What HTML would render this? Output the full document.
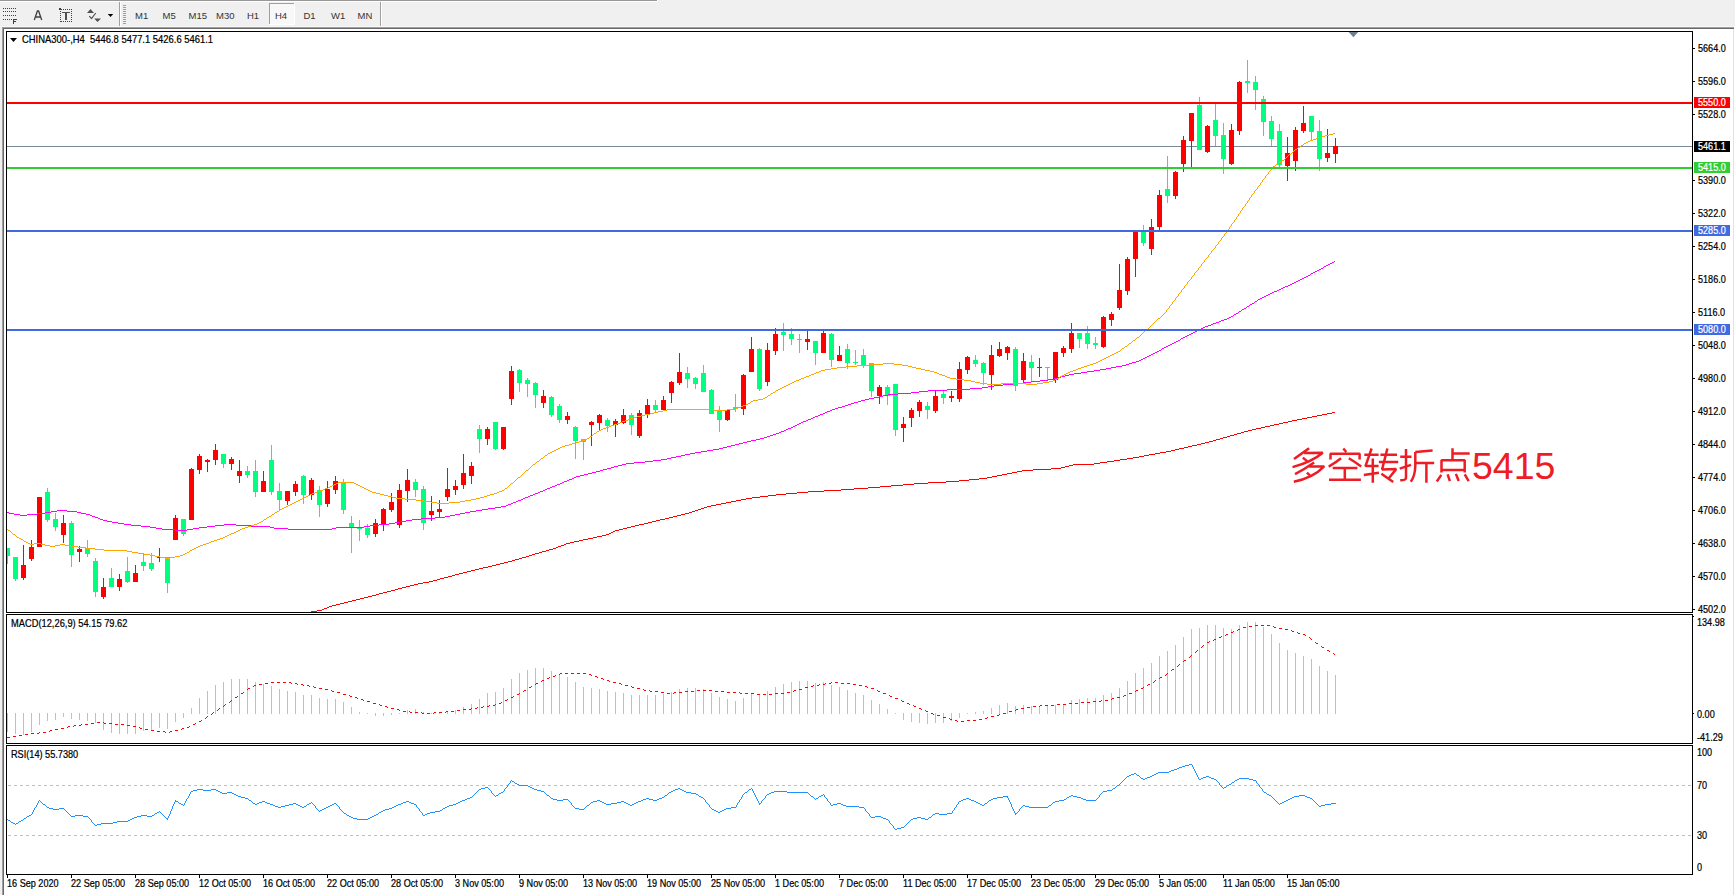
<!DOCTYPE html><html><head><meta charset="utf-8"><style>html,body{margin:0;padding:0;overflow:hidden;background:#f0f0f0}svg{display:block}text{font-family:"Liberation Sans",sans-serif}</style></head><body><svg width="1735" height="895" viewBox="0 0 1735 895" font-family="Liberation Sans, sans-serif"><rect x="0" y="0" width="1735" height="895" fill="#f0f0f0"/><rect x="0" y="0" width="657" height="1" fill="#979797"/><rect x="0" y="1" width="658" height="1" fill="#ffffff"/><rect x="657" y="0" width="1" height="1" fill="#ffffff"/><rect x="119" y="2" width="1" height="25" fill="#a0a0a0"/><rect x="120" y="2" width="1" height="25" fill="#ffffff"/><rect x="380" y="2" width="1" height="25" fill="#a0a0a0"/><rect x="381" y="2" width="1" height="25" fill="#ffffff"/><rect x="123" y="5" width="3" height="1" fill="#a0a0a0"/><rect x="123" y="7" width="3" height="1" fill="#a0a0a0"/><rect x="123" y="9" width="3" height="1" fill="#a0a0a0"/><rect x="123" y="11" width="3" height="1" fill="#a0a0a0"/><rect x="123" y="13" width="3" height="1" fill="#a0a0a0"/><rect x="123" y="15" width="3" height="1" fill="#a0a0a0"/><rect x="123" y="17" width="3" height="1" fill="#a0a0a0"/><rect x="123" y="19" width="3" height="1" fill="#a0a0a0"/><rect x="123" y="21" width="3" height="1" fill="#a0a0a0"/><rect x="123" y="23" width="3" height="1" fill="#a0a0a0"/><rect x="2" y="26" width="1733" height="1" fill="#f8f8f8"/><rect x="2" y="27" width="1732" height="1" fill="#a0a0a0"/><rect x="3" y="28" width="1731" height="1" fill="#696969"/><rect x="2" y="27" width="1" height="868" fill="#a0a0a0"/><rect x="3" y="28" width="1" height="867" fill="#696969"/><rect x="4" y="29" width="1730" height="866" fill="#ffffff"/><rect x="1733" y="29" width="1" height="866" fill="#e3e3e3"/><rect x="1734" y="27" width="1" height="868" fill="#ffffff"/><rect x="269" y="3" width="26" height="22" fill="#f8f8f8"/><rect x="269" y="3" width="26" height="1" fill="#a0a0a0"/><rect x="269" y="3" width="1" height="22" fill="#a0a0a0"/><rect x="294" y="3" width="1" height="22" fill="#ffffff"/><rect x="269" y="24" width="26" height="1" fill="#ffffff"/><rect x="3" y="8" width="1" height="1" fill="#404040"/><rect x="5" y="8" width="1" height="1" fill="#404040"/><rect x="7" y="8" width="1" height="1" fill="#404040"/><rect x="9" y="8" width="1" height="1" fill="#404040"/><rect x="11" y="8" width="1" height="1" fill="#404040"/><rect x="13" y="8" width="1" height="1" fill="#404040"/><rect x="15" y="8" width="1" height="1" fill="#404040"/><rect x="3" y="11" width="1" height="1" fill="#404040"/><rect x="5" y="11" width="1" height="1" fill="#404040"/><rect x="7" y="11" width="1" height="1" fill="#404040"/><rect x="9" y="11" width="1" height="1" fill="#404040"/><rect x="11" y="11" width="1" height="1" fill="#404040"/><rect x="13" y="11" width="1" height="1" fill="#404040"/><rect x="15" y="11" width="1" height="1" fill="#404040"/><rect x="3" y="15" width="1" height="1" fill="#404040"/><rect x="5" y="15" width="1" height="1" fill="#404040"/><rect x="7" y="15" width="1" height="1" fill="#404040"/><rect x="9" y="15" width="1" height="1" fill="#404040"/><rect x="11" y="15" width="1" height="1" fill="#404040"/><rect x="13" y="15" width="1" height="1" fill="#404040"/><rect x="15" y="15" width="1" height="1" fill="#404040"/><rect x="3" y="19" width="1" height="1" fill="#404040"/><rect x="5" y="19" width="1" height="1" fill="#404040"/><rect x="7" y="19" width="1" height="1" fill="#404040"/><rect x="9" y="19" width="1" height="1" fill="#404040"/><rect x="11" y="19" width="1" height="1" fill="#404040"/><rect x="13" y="19" width="1" height="5" fill="#404040"/><rect x="13" y="19" width="4" height="1" fill="#404040"/><rect x="13" y="21" width="3" height="1" fill="#404040"/><path d="M34.3,20 L37.4,11 L38.6,11 L41.7,20 M35.6,17 L40.4,17" fill="none" stroke="#404040" stroke-width="1.3"/><rect x="61" y="9" width="1" height="1" fill="#404040"/><rect x="61" y="21" width="1" height="1" fill="#404040"/><rect x="60" y="11" width="1" height="1" fill="#404040"/><rect x="71" y="9" width="1" height="1" fill="#404040"/><rect x="63" y="9" width="1" height="1" fill="#404040"/><rect x="63" y="21" width="1" height="1" fill="#404040"/><rect x="60" y="13" width="1" height="1" fill="#404040"/><rect x="71" y="11" width="1" height="1" fill="#404040"/><rect x="65" y="9" width="1" height="1" fill="#404040"/><rect x="65" y="21" width="1" height="1" fill="#404040"/><rect x="60" y="15" width="1" height="1" fill="#404040"/><rect x="71" y="13" width="1" height="1" fill="#404040"/><rect x="67" y="9" width="1" height="1" fill="#404040"/><rect x="67" y="21" width="1" height="1" fill="#404040"/><rect x="60" y="17" width="1" height="1" fill="#404040"/><rect x="71" y="15" width="1" height="1" fill="#404040"/><rect x="69" y="9" width="1" height="1" fill="#404040"/><rect x="69" y="21" width="1" height="1" fill="#404040"/><rect x="60" y="19" width="1" height="1" fill="#404040"/><rect x="71" y="17" width="1" height="1" fill="#404040"/><rect x="71" y="9" width="1" height="1" fill="#404040"/><rect x="71" y="21" width="1" height="1" fill="#404040"/><rect x="60" y="21" width="1" height="1" fill="#404040"/><rect x="71" y="19" width="1" height="1" fill="#404040"/><rect x="59" y="8" width="2" height="2" fill="#404040"/><rect x="62" y="12" width="8" height="1" fill="#505050"/><rect x="65" y="12" width="2" height="8" fill="#505050"/><path d="M87,13 L90.5,9 L94,13 Z M94.2,18.5 L101,18.5 L97.5,22 Z" fill="#505050"/><path d="M89.3,16.2 L91.5,18.5 L95.8,13" fill="none" stroke="#505050" stroke-width="1.2"/><path d="M107.8,14 L113.2,14 L110.5,17 Z" fill="#000"/><rect x="6" y="31" width="1687" height="1" fill="#000"/><rect x="6" y="612" width="1687" height="1" fill="#000"/><rect x="6" y="31" width="1" height="582" fill="#000"/><rect x="1692" y="31" width="1" height="582" fill="#000"/><rect x="6" y="614" width="1687" height="1" fill="#000"/><rect x="6" y="743" width="1687" height="1" fill="#000"/><rect x="6" y="614" width="1" height="130" fill="#000"/><rect x="1692" y="614" width="1" height="130" fill="#000"/><rect x="6" y="745" width="1687" height="1" fill="#000"/><rect x="6" y="874" width="1687" height="1" fill="#000"/><rect x="6" y="745" width="1" height="130" fill="#000"/><rect x="1692" y="745" width="1" height="130" fill="#000"/><clipPath id="cm"><rect x="7" y="32" width="1685" height="580"/></clipPath><clipPath id="cmacd"><rect x="7" y="615" width="1685" height="128"/></clipPath><clipPath id="crsi"><rect x="7" y="746" width="1685" height="128"/></clipPath><g clip-path="url(#cm)" shape-rendering="crispEdges"><rect x="7" y="146" width="1686" height="1" fill="#778899"/><rect x="7" y="548" width="1" height="16" fill="#00ff7f"/><rect x="5" y="548" width="5" height="8" fill="#00ff7f"/><rect x="15" y="557" width="1" height="24" fill="#00ff7f"/><rect x="13" y="557" width="5" height="22" fill="#00ff7f"/><rect x="23" y="545" width="1" height="35" fill="#ff0000"/><rect x="21" y="565" width="5" height="13" fill="#ff0000"/><rect x="31" y="540" width="1" height="21" fill="#ff0000"/><rect x="29" y="547" width="5" height="12" fill="#ff0000"/><rect x="39" y="497" width="1" height="50" fill="#ff0000"/><rect x="37" y="497" width="5" height="50" fill="#ff0000"/><rect x="47" y="488" width="1" height="34" fill="#00ff7f"/><rect x="45" y="492" width="5" height="28" fill="#00ff7f"/><rect x="55" y="513" width="1" height="18" fill="#00ff7f"/><rect x="53" y="519" width="5" height="8" fill="#00ff7f"/><rect x="63" y="515" width="1" height="28" fill="#ff0000"/><rect x="61" y="523" width="5" height="12" fill="#ff0000"/><rect x="71" y="521" width="1" height="46" fill="#00ff7f"/><rect x="69" y="523" width="5" height="32" fill="#00ff7f"/><rect x="79" y="546" width="1" height="16" fill="#ff0000"/><rect x="77" y="549" width="5" height="3" fill="#ff0000"/><rect x="87" y="540" width="1" height="17" fill="#00ff7f"/><rect x="85" y="548" width="5" height="6" fill="#00ff7f"/><rect x="95" y="558" width="1" height="39" fill="#00ff7f"/><rect x="93" y="561" width="5" height="31" fill="#00ff7f"/><rect x="103" y="578" width="1" height="21" fill="#ff0000"/><rect x="101" y="587" width="5" height="10" fill="#ff0000"/><rect x="111" y="568" width="1" height="19" fill="#00ff7f"/><rect x="109" y="578" width="5" height="9" fill="#00ff7f"/><rect x="119" y="574" width="1" height="17" fill="#ff0000"/><rect x="117" y="579" width="5" height="8" fill="#ff0000"/><rect x="127" y="557" width="1" height="26" fill="#00ff7f"/><rect x="125" y="571" width="5" height="11" fill="#00ff7f"/><rect x="135" y="565" width="1" height="17" fill="#ff0000"/><rect x="133" y="573" width="5" height="9" fill="#ff0000"/><rect x="143" y="553" width="1" height="18" fill="#00ff7f"/><rect x="141" y="562" width="5" height="4" fill="#00ff7f"/><rect x="151" y="553" width="1" height="18" fill="#00ff7f"/><rect x="149" y="563" width="5" height="6" fill="#00ff7f"/><rect x="159" y="548" width="1" height="14" fill="#ff0000"/><rect x="157" y="557" width="5" height="1" fill="#ff0000"/><rect x="167" y="557" width="1" height="36" fill="#00ff7f"/><rect x="165" y="557" width="5" height="26" fill="#00ff7f"/><rect x="175" y="515" width="1" height="25" fill="#ff0000"/><rect x="173" y="518" width="5" height="22" fill="#ff0000"/><rect x="183" y="519" width="1" height="17" fill="#00ff7f"/><rect x="181" y="519" width="5" height="15" fill="#00ff7f"/><rect x="191" y="468" width="1" height="52" fill="#ff0000"/><rect x="189" y="469" width="5" height="51" fill="#ff0000"/><rect x="199" y="454" width="1" height="20" fill="#ff0000"/><rect x="197" y="456" width="5" height="14" fill="#ff0000"/><rect x="207" y="459" width="1" height="13" fill="#ff0000"/><rect x="205" y="460" width="5" height="2" fill="#ff0000"/><rect x="215" y="444" width="1" height="21" fill="#ff0000"/><rect x="213" y="450" width="5" height="10" fill="#ff0000"/><rect x="223" y="454" width="1" height="14" fill="#00ff7f"/><rect x="221" y="454" width="5" height="10" fill="#00ff7f"/><rect x="231" y="457" width="1" height="13" fill="#ff0000"/><rect x="229" y="459" width="5" height="5" fill="#ff0000"/><rect x="239" y="460" width="1" height="23" fill="#ff0000"/><rect x="237" y="471" width="5" height="5" fill="#ff0000"/><rect x="247" y="466" width="1" height="12" fill="#00ff7f"/><rect x="245" y="471" width="5" height="4" fill="#00ff7f"/><rect x="255" y="460" width="1" height="37" fill="#00ff7f"/><rect x="253" y="471" width="5" height="21" fill="#00ff7f"/><rect x="263" y="471" width="1" height="21" fill="#ff0000"/><rect x="261" y="481" width="5" height="11" fill="#ff0000"/><rect x="271" y="445" width="1" height="50" fill="#00ff7f"/><rect x="269" y="460" width="5" height="32" fill="#00ff7f"/><rect x="279" y="483" width="1" height="27" fill="#00ff7f"/><rect x="277" y="491" width="5" height="9" fill="#00ff7f"/><rect x="287" y="491" width="1" height="14" fill="#ff0000"/><rect x="285" y="491" width="5" height="10" fill="#ff0000"/><rect x="295" y="481" width="1" height="15" fill="#ff0000"/><rect x="293" y="484" width="5" height="8" fill="#ff0000"/><rect x="303" y="475" width="1" height="29" fill="#00ff7f"/><rect x="301" y="476" width="5" height="19" fill="#00ff7f"/><rect x="311" y="478" width="1" height="22" fill="#ff0000"/><rect x="309" y="480" width="5" height="15" fill="#ff0000"/><rect x="319" y="486" width="1" height="31" fill="#00ff7f"/><rect x="317" y="490" width="5" height="15" fill="#00ff7f"/><rect x="327" y="481" width="1" height="26" fill="#ff0000"/><rect x="325" y="489" width="5" height="15" fill="#ff0000"/><rect x="335" y="476" width="1" height="18" fill="#ff0000"/><rect x="333" y="481" width="5" height="9" fill="#ff0000"/><rect x="343" y="479" width="1" height="35" fill="#00ff7f"/><rect x="341" y="483" width="5" height="27" fill="#00ff7f"/><rect x="351" y="516" width="1" height="37" fill="#00ff7f"/><rect x="349" y="523" width="5" height="4" fill="#00ff7f"/><rect x="359" y="520" width="1" height="21" fill="#00ff7f"/><rect x="357" y="528" width="5" height="1" fill="#00ff7f"/><rect x="367" y="524" width="1" height="14" fill="#00ff7f"/><rect x="365" y="528" width="5" height="7" fill="#00ff7f"/><rect x="375" y="519" width="1" height="18" fill="#ff0000"/><rect x="373" y="523" width="5" height="11" fill="#ff0000"/><rect x="383" y="508" width="1" height="23" fill="#ff0000"/><rect x="381" y="509" width="5" height="15" fill="#ff0000"/><rect x="391" y="493" width="1" height="19" fill="#ff0000"/><rect x="389" y="502" width="5" height="8" fill="#ff0000"/><rect x="399" y="484" width="1" height="44" fill="#ff0000"/><rect x="397" y="490" width="5" height="35" fill="#ff0000"/><rect x="407" y="469" width="1" height="33" fill="#ff0000"/><rect x="405" y="480" width="5" height="11" fill="#ff0000"/><rect x="415" y="479" width="1" height="18" fill="#00ff7f"/><rect x="413" y="482" width="5" height="8" fill="#00ff7f"/><rect x="423" y="486" width="1" height="44" fill="#00ff7f"/><rect x="421" y="489" width="5" height="34" fill="#00ff7f"/><rect x="431" y="496" width="1" height="25" fill="#ff0000"/><rect x="429" y="511" width="5" height="4" fill="#ff0000"/><rect x="439" y="500" width="1" height="18" fill="#ff0000"/><rect x="437" y="509" width="5" height="3" fill="#ff0000"/><rect x="447" y="468" width="1" height="33" fill="#ff0000"/><rect x="445" y="489" width="5" height="8" fill="#ff0000"/><rect x="455" y="480" width="1" height="15" fill="#ff0000"/><rect x="453" y="486" width="5" height="4" fill="#ff0000"/><rect x="463" y="454" width="1" height="35" fill="#ff0000"/><rect x="461" y="473" width="5" height="12" fill="#ff0000"/><rect x="471" y="462" width="1" height="22" fill="#ff0000"/><rect x="469" y="466" width="5" height="10" fill="#ff0000"/><rect x="479" y="425" width="1" height="28" fill="#00ff7f"/><rect x="477" y="429" width="5" height="10" fill="#00ff7f"/><rect x="487" y="427" width="1" height="18" fill="#ff0000"/><rect x="485" y="429" width="5" height="10" fill="#ff0000"/><rect x="495" y="422" width="1" height="28" fill="#00ff7f"/><rect x="493" y="422" width="5" height="27" fill="#00ff7f"/><rect x="503" y="427" width="1" height="23" fill="#ff0000"/><rect x="501" y="427" width="5" height="22" fill="#ff0000"/><rect x="511" y="366" width="1" height="39" fill="#ff0000"/><rect x="509" y="371" width="5" height="28" fill="#ff0000"/><rect x="519" y="369" width="1" height="23" fill="#00ff7f"/><rect x="517" y="370" width="5" height="13" fill="#00ff7f"/><rect x="527" y="378" width="1" height="19" fill="#00ff7f"/><rect x="525" y="380" width="5" height="4" fill="#00ff7f"/><rect x="535" y="382" width="1" height="26" fill="#00ff7f"/><rect x="533" y="383" width="5" height="12" fill="#00ff7f"/><rect x="543" y="390" width="1" height="18" fill="#ff0000"/><rect x="541" y="396" width="5" height="7" fill="#ff0000"/><rect x="551" y="396" width="1" height="21" fill="#00ff7f"/><rect x="549" y="397" width="5" height="18" fill="#00ff7f"/><rect x="559" y="404" width="1" height="19" fill="#00ff7f"/><rect x="557" y="406" width="5" height="14" fill="#00ff7f"/><rect x="567" y="412" width="1" height="12" fill="#ff0000"/><rect x="565" y="416" width="5" height="4" fill="#ff0000"/><rect x="575" y="426" width="1" height="33" fill="#00ff7f"/><rect x="573" y="427" width="5" height="14" fill="#00ff7f"/><rect x="583" y="439" width="1" height="21" fill="#00ff7f"/><rect x="581" y="439" width="5" height="3" fill="#00ff7f"/><rect x="591" y="421" width="1" height="25" fill="#ff0000"/><rect x="589" y="422" width="5" height="3" fill="#ff0000"/><rect x="599" y="414" width="1" height="17" fill="#ff0000"/><rect x="597" y="415" width="5" height="8" fill="#ff0000"/><rect x="607" y="418" width="1" height="14" fill="#00ff7f"/><rect x="605" y="420" width="5" height="6" fill="#00ff7f"/><rect x="615" y="419" width="1" height="18" fill="#ff0000"/><rect x="613" y="421" width="5" height="4" fill="#ff0000"/><rect x="623" y="409" width="1" height="15" fill="#ff0000"/><rect x="621" y="415" width="5" height="8" fill="#ff0000"/><rect x="631" y="413" width="1" height="22" fill="#00ff7f"/><rect x="629" y="415" width="5" height="10" fill="#00ff7f"/><rect x="639" y="410" width="1" height="28" fill="#ff0000"/><rect x="637" y="413" width="5" height="23" fill="#ff0000"/><rect x="647" y="399" width="1" height="19" fill="#ff0000"/><rect x="645" y="405" width="5" height="9" fill="#ff0000"/><rect x="655" y="400" width="1" height="12" fill="#00ff7f"/><rect x="653" y="405" width="5" height="5" fill="#00ff7f"/><rect x="663" y="396" width="1" height="15" fill="#ff0000"/><rect x="661" y="400" width="5" height="10" fill="#ff0000"/><rect x="671" y="381" width="1" height="22" fill="#ff0000"/><rect x="669" y="382" width="5" height="11" fill="#ff0000"/><rect x="679" y="353" width="1" height="32" fill="#ff0000"/><rect x="677" y="372" width="5" height="11" fill="#ff0000"/><rect x="687" y="367" width="1" height="21" fill="#00ff7f"/><rect x="685" y="373" width="5" height="6" fill="#00ff7f"/><rect x="695" y="377" width="1" height="12" fill="#00ff7f"/><rect x="693" y="378" width="5" height="6" fill="#00ff7f"/><rect x="703" y="365" width="1" height="27" fill="#00ff7f"/><rect x="701" y="373" width="5" height="19" fill="#00ff7f"/><rect x="711" y="389" width="1" height="25" fill="#00ff7f"/><rect x="709" y="390" width="5" height="24" fill="#00ff7f"/><rect x="719" y="406" width="1" height="26" fill="#00ff7f"/><rect x="717" y="411" width="5" height="9" fill="#00ff7f"/><rect x="727" y="410" width="1" height="11" fill="#ff0000"/><rect x="725" y="410" width="5" height="10" fill="#ff0000"/><rect x="735" y="394" width="1" height="18" fill="#00ff7f"/><rect x="733" y="407" width="5" height="2" fill="#00ff7f"/><rect x="743" y="374" width="1" height="41" fill="#ff0000"/><rect x="741" y="375" width="5" height="34" fill="#ff0000"/><rect x="751" y="337" width="1" height="35" fill="#ff0000"/><rect x="749" y="349" width="5" height="23" fill="#ff0000"/><rect x="759" y="348" width="1" height="43" fill="#00ff7f"/><rect x="757" y="349" width="5" height="40" fill="#00ff7f"/><rect x="767" y="343" width="1" height="43" fill="#ff0000"/><rect x="765" y="350" width="5" height="32" fill="#ff0000"/><rect x="775" y="328" width="1" height="27" fill="#ff0000"/><rect x="773" y="334" width="5" height="17" fill="#ff0000"/><rect x="783" y="323" width="1" height="28" fill="#00ff7f"/><rect x="781" y="332" width="5" height="3" fill="#00ff7f"/><rect x="791" y="328" width="1" height="17" fill="#00ff7f"/><rect x="789" y="334" width="5" height="5" fill="#00ff7f"/><rect x="799" y="334" width="1" height="19" fill="#00ff7f"/><rect x="797" y="339" width="5" height="1" fill="#00ff7f"/><rect x="807" y="331" width="1" height="19" fill="#ff0000"/><rect x="805" y="339" width="5" height="3" fill="#ff0000"/><rect x="815" y="341" width="1" height="24" fill="#00ff7f"/><rect x="813" y="341" width="5" height="12" fill="#00ff7f"/><rect x="823" y="331" width="1" height="22" fill="#ff0000"/><rect x="821" y="333" width="5" height="20" fill="#ff0000"/><rect x="831" y="333" width="1" height="34" fill="#00ff7f"/><rect x="829" y="334" width="5" height="26" fill="#00ff7f"/><rect x="839" y="346" width="1" height="15" fill="#ff0000"/><rect x="837" y="355" width="5" height="6" fill="#ff0000"/><rect x="847" y="344" width="1" height="25" fill="#00ff7f"/><rect x="845" y="349" width="5" height="14" fill="#00ff7f"/><rect x="855" y="350" width="1" height="15" fill="#00ff7f"/><rect x="853" y="362" width="5" height="1" fill="#00ff7f"/><rect x="863" y="349" width="1" height="19" fill="#00ff7f"/><rect x="861" y="355" width="5" height="11" fill="#00ff7f"/><rect x="871" y="363" width="1" height="34" fill="#00ff7f"/><rect x="869" y="363" width="5" height="28" fill="#00ff7f"/><rect x="879" y="385" width="1" height="19" fill="#ff0000"/><rect x="877" y="387" width="5" height="9" fill="#ff0000"/><rect x="887" y="385" width="1" height="20" fill="#00ff7f"/><rect x="885" y="387" width="5" height="9" fill="#00ff7f"/><rect x="895" y="384" width="1" height="52" fill="#00ff7f"/><rect x="893" y="384" width="5" height="46" fill="#00ff7f"/><rect x="903" y="417" width="1" height="25" fill="#ff0000"/><rect x="901" y="424" width="5" height="4" fill="#ff0000"/><rect x="911" y="408" width="1" height="19" fill="#ff0000"/><rect x="909" y="410" width="5" height="8" fill="#ff0000"/><rect x="919" y="400" width="1" height="17" fill="#ff0000"/><rect x="917" y="402" width="5" height="9" fill="#ff0000"/><rect x="927" y="402" width="1" height="17" fill="#00ff7f"/><rect x="925" y="406" width="5" height="4" fill="#00ff7f"/><rect x="935" y="391" width="1" height="22" fill="#ff0000"/><rect x="933" y="396" width="5" height="15" fill="#ff0000"/><rect x="943" y="391" width="1" height="13" fill="#00ff7f"/><rect x="941" y="394" width="5" height="4" fill="#00ff7f"/><rect x="951" y="391" width="1" height="11" fill="#ff0000"/><rect x="949" y="396" width="5" height="2" fill="#ff0000"/><rect x="959" y="362" width="1" height="40" fill="#ff0000"/><rect x="957" y="369" width="5" height="30" fill="#ff0000"/><rect x="967" y="356" width="1" height="18" fill="#ff0000"/><rect x="965" y="357" width="5" height="13" fill="#ff0000"/><rect x="975" y="355" width="1" height="12" fill="#00ff7f"/><rect x="973" y="360" width="5" height="4" fill="#00ff7f"/><rect x="983" y="362" width="1" height="23" fill="#00ff7f"/><rect x="981" y="363" width="5" height="10" fill="#00ff7f"/><rect x="991" y="345" width="1" height="45" fill="#ff0000"/><rect x="989" y="355" width="5" height="20" fill="#ff0000"/><rect x="999" y="342" width="1" height="15" fill="#ff0000"/><rect x="997" y="349" width="5" height="7" fill="#ff0000"/><rect x="1007" y="346" width="1" height="14" fill="#ff0000"/><rect x="1005" y="347" width="5" height="6" fill="#ff0000"/><rect x="1015" y="347" width="1" height="44" fill="#00ff7f"/><rect x="1013" y="349" width="5" height="37" fill="#00ff7f"/><rect x="1023" y="353" width="1" height="30" fill="#ff0000"/><rect x="1021" y="361" width="5" height="19" fill="#ff0000"/><rect x="1031" y="355" width="1" height="27" fill="#00ff7f"/><rect x="1029" y="362" width="5" height="6" fill="#00ff7f"/><rect x="1039" y="358" width="1" height="19" fill="#ff0000"/><rect x="1037" y="367" width="5" height="1" fill="#ff0000"/><rect x="1047" y="367" width="1" height="14" fill="#00ff7f"/><rect x="1045" y="367" width="5" height="1" fill="#00ff7f"/><rect x="1055" y="352" width="1" height="31" fill="#ff0000"/><rect x="1053" y="352" width="5" height="28" fill="#ff0000"/><rect x="1063" y="346" width="1" height="11" fill="#ff0000"/><rect x="1061" y="348" width="5" height="5" fill="#ff0000"/><rect x="1071" y="323" width="1" height="30" fill="#ff0000"/><rect x="1069" y="333" width="5" height="16" fill="#ff0000"/><rect x="1079" y="333" width="1" height="15" fill="#00ff7f"/><rect x="1077" y="333" width="5" height="6" fill="#00ff7f"/><rect x="1087" y="326" width="1" height="23" fill="#00ff7f"/><rect x="1085" y="333" width="5" height="11" fill="#00ff7f"/><rect x="1095" y="337" width="1" height="12" fill="#00ff7f"/><rect x="1093" y="343" width="5" height="2" fill="#00ff7f"/><rect x="1103" y="316" width="1" height="32" fill="#ff0000"/><rect x="1101" y="317" width="5" height="30" fill="#ff0000"/><rect x="1111" y="312" width="1" height="14" fill="#ff0000"/><rect x="1109" y="314" width="5" height="6" fill="#ff0000"/><rect x="1119" y="264" width="1" height="46" fill="#ff0000"/><rect x="1117" y="290" width="5" height="18" fill="#ff0000"/><rect x="1127" y="257" width="1" height="38" fill="#ff0000"/><rect x="1125" y="259" width="5" height="32" fill="#ff0000"/><rect x="1135" y="232" width="1" height="45" fill="#ff0000"/><rect x="1133" y="232" width="5" height="27" fill="#ff0000"/><rect x="1143" y="225" width="1" height="21" fill="#00ff7f"/><rect x="1141" y="232" width="5" height="11" fill="#00ff7f"/><rect x="1151" y="219" width="1" height="36" fill="#ff0000"/><rect x="1149" y="227" width="5" height="22" fill="#ff0000"/><rect x="1159" y="190" width="1" height="40" fill="#ff0000"/><rect x="1157" y="195" width="5" height="32" fill="#ff0000"/><rect x="1167" y="156" width="1" height="47" fill="#00ff7f"/><rect x="1165" y="189" width="5" height="7" fill="#00ff7f"/><rect x="1175" y="171" width="1" height="28" fill="#ff0000"/><rect x="1173" y="172" width="5" height="24" fill="#ff0000"/><rect x="1183" y="136" width="1" height="36" fill="#ff0000"/><rect x="1181" y="140" width="5" height="24" fill="#ff0000"/><rect x="1191" y="113" width="1" height="54" fill="#ff0000"/><rect x="1189" y="113" width="5" height="28" fill="#ff0000"/><rect x="1199" y="97" width="1" height="53" fill="#00ff7f"/><rect x="1197" y="105" width="5" height="45" fill="#00ff7f"/><rect x="1207" y="125" width="1" height="28" fill="#ff0000"/><rect x="1205" y="126" width="5" height="26" fill="#ff0000"/><rect x="1215" y="104" width="1" height="42" fill="#00ff7f"/><rect x="1213" y="120" width="5" height="16" fill="#00ff7f"/><rect x="1223" y="123" width="1" height="51" fill="#00ff7f"/><rect x="1221" y="135" width="5" height="24" fill="#00ff7f"/><rect x="1231" y="124" width="1" height="41" fill="#ff0000"/><rect x="1229" y="130" width="5" height="34" fill="#ff0000"/><rect x="1239" y="81" width="1" height="54" fill="#ff0000"/><rect x="1237" y="82" width="5" height="49" fill="#ff0000"/><rect x="1247" y="60" width="1" height="33" fill="#00ff7f"/><rect x="1245" y="81" width="5" height="2" fill="#00ff7f"/><rect x="1255" y="76" width="1" height="34" fill="#00ff7f"/><rect x="1253" y="82" width="5" height="8" fill="#00ff7f"/><rect x="1263" y="96" width="1" height="40" fill="#00ff7f"/><rect x="1261" y="99" width="5" height="23" fill="#00ff7f"/><rect x="1271" y="116" width="1" height="30" fill="#00ff7f"/><rect x="1269" y="121" width="5" height="18" fill="#00ff7f"/><rect x="1279" y="124" width="1" height="43" fill="#00ff7f"/><rect x="1277" y="131" width="5" height="34" fill="#00ff7f"/><rect x="1287" y="137" width="1" height="44" fill="#ff0000"/><rect x="1285" y="153" width="5" height="13" fill="#ff0000"/><rect x="1295" y="127" width="1" height="44" fill="#ff0000"/><rect x="1293" y="130" width="5" height="31" fill="#ff0000"/><rect x="1303" y="106" width="1" height="27" fill="#ff0000"/><rect x="1301" y="123" width="5" height="8" fill="#ff0000"/><rect x="1311" y="116" width="1" height="24" fill="#00ff7f"/><rect x="1309" y="116" width="5" height="16" fill="#00ff7f"/><rect x="1319" y="120" width="1" height="51" fill="#00ff7f"/><rect x="1317" y="131" width="5" height="28" fill="#00ff7f"/><rect x="1327" y="129" width="1" height="33" fill="#ff0000"/><rect x="1325" y="153" width="5" height="5" fill="#ff0000"/><rect x="1335" y="138" width="1" height="25" fill="#ff0000"/><rect x="1333" y="146" width="5" height="8" fill="#ff0000"/><path d="M1332 412h3v1h-3zM1327 413h5v1h-5zM1322 414h5v1h-5zM1317 415h5v1h-5zM1312 416h5v1h-5zM1307 417h5v1h-5zM1302 418h5v1h-5zM1297 419h5v1h-5zM1292 420h5v1h-5zM1288 421h4v1h-4zM1283 422h5v1h-5zM1279 423h4v1h-4zM1274 424h5v1h-5zM1270 425h4v1h-4zM1265 426h5v1h-5zM1261 427h4v1h-4zM1256 428h5v1h-5zM1252 429h4v1h-4zM1248 430h4v1h-4zM1244 431h4v1h-4zM1241 432h3v1h-3zM1237 433h4v1h-4zM1234 434h3v1h-3zM1230 435h4v1h-4zM1227 436h3v1h-3zM1223 437h4v1h-4zM1220 438h3v1h-3zM1216 439h4v1h-4zM1213 440h3v1h-3zM1209 441h4v1h-4zM1205 442h4v1h-4zM1201 443h4v1h-4zM1197 444h4v1h-4zM1192 445h5v1h-5zM1188 446h4v1h-4zM1184 447h4v1h-4zM1179 448h5v1h-5zM1175 449h4v1h-4zM1171 450h4v1h-4zM1166 451h5v1h-5zM1160 452h6v1h-6zM1155 453h5v1h-5zM1149 454h6v1h-6zM1144 455h5v1h-5zM1139 456h5v1h-5zM1133 457h6v1h-6zM1127 458h6v1h-6zM1120 459h7v1h-7zM1114 460h6v1h-6zM1107 461h7v1h-7zM1100 462h7v1h-7zM1094 463h6v1h-6zM1073 464h21v1h-21zM1069 465h4v1h-4zM1065 466h4v1h-4zM1061 467h4v1h-4zM1051 468h10v1h-10zM1033 469h18v1h-18zM1022 470h11v1h-11zM1017 471h5v1h-5zM1012 472h5v1h-5zM1007 473h5v1h-5zM1002 474h5v1h-5zM997 475h5v1h-5zM992 476h5v1h-5zM987 477h5v1h-5zM979 478h8v1h-8zM969 479h10v1h-10zM959 480h10v1h-10zM946 481h13v1h-13zM928 482h18v1h-18zM914 483h14v1h-14zM903 484h11v1h-11zM891 485h12v1h-12zM880 486h11v1h-11zM868 487h12v1h-12zM854 488h14v1h-14zM841 489h13v1h-13zM824 490h17v1h-17zM808 491h16v1h-16zM797 492h11v1h-11zM786 493h11v1h-11zM776 494h10v1h-10zM768 495h8v1h-8zM760 496h8v1h-8zM752 497h8v1h-8zM746 498h6v1h-6zM741 499h5v1h-5zM736 500h5v1h-5zM731 501h5v1h-5zM726 502h5v1h-5zM721 503h5v1h-5zM716 504h5v1h-5zM711 505h5v1h-5zM707 506h4v1h-4zM704 507h3v1h-3zM701 508h3v1h-3zM698 509h3v1h-3zM695 510h3v1h-3zM692 511h3v1h-3zM689 512h3v1h-3zM685 513h4v1h-4zM681 514h4v1h-4zM677 515h4v1h-4zM673 516h4v1h-4zM669 517h4v1h-4zM665 518h4v1h-4zM660 519h5v1h-5zM656 520h4v1h-4zM652 521h4v1h-4zM648 522h4v1h-4zM644 523h4v1h-4zM639 524h5v1h-5zM635 525h4v1h-4zM631 526h4v1h-4zM627 527h4v1h-4zM623 528h4v1h-4zM619 529h4v1h-4zM615 530h4v1h-4zM613 531h2v1h-2zM611 532h2v1h-2zM609 533h2v1h-2zM606 534h3v1h-3zM602 535h4v1h-4zM597 536h5v1h-5zM593 537h4v1h-4zM588 538h5v1h-5zM583 539h5v1h-5zM579 540h4v1h-4zM574 541h5v1h-5zM570 542h4v1h-4zM566 543h4v1h-4zM564 544h2v1h-2zM561 545h3v1h-3zM558 546h3v1h-3zM556 547h2v1h-2zM553 548h3v1h-3zM549 549h4v1h-4zM546 550h3v1h-3zM542 551h4v1h-4zM539 552h3v1h-3zM535 553h4v1h-4zM532 554h3v1h-3zM529 555h3v1h-3zM526 556h3v1h-3zM522 557h4v1h-4zM519 558h3v1h-3zM515 559h4v1h-4zM512 560h3v1h-3zM508 561h4v1h-4zM504 562h4v1h-4zM500 563h4v1h-4zM496 564h4v1h-4zM492 565h4v1h-4zM488 566h4v1h-4zM483 567h5v1h-5zM479 568h4v1h-4zM475 569h4v1h-4zM471 570h4v1h-4zM467 571h4v1h-4zM463 572h4v1h-4zM459 573h4v1h-4zM455 574h4v1h-4zM452 575h3v1h-3zM448 576h4v1h-4zM444 577h4v1h-4zM440 578h4v1h-4zM437 579h3v1h-3zM433 580h4v1h-4zM429 581h4v1h-4zM423 582h6v1h-6zM418 583h5v1h-5zM414 584h4v1h-4zM410 585h4v1h-4zM406 586h4v1h-4zM402 587h4v1h-4zM398 588h4v1h-4zM395 589h3v1h-3zM391 590h4v1h-4zM387 591h4v1h-4zM383 592h4v1h-4zM379 593h4v1h-4zM376 594h3v1h-3zM372 595h4v1h-4zM368 596h4v1h-4zM364 597h4v1h-4zM360 598h4v1h-4zM356 599h4v1h-4zM352 600h4v1h-4zM348 601h4v1h-4zM344 602h4v1h-4zM340 603h4v1h-4zM336 604h4v1h-4zM332 605h4v1h-4zM329 606h3v1h-3zM327 607h2v1h-2zM324 608h3v1h-3zM322 609h2v1h-2zM317 610h5v1h-5zM311 611h6v1h-6zM308 612h3v1h-3z" fill="#ff0000"/><path d="M1334 261h1v1h-1zM1332 262h2v1h-2zM1330 263h2v1h-2zM1328 264h2v1h-2zM1326 265h2v1h-2zM1324 266h2v1h-2zM1323 267h1v1h-1zM1321 268h2v1h-2zM1319 269h2v1h-2zM1317 270h2v1h-2zM1315 271h2v1h-2zM1313 272h2v1h-2zM1311 273h2v1h-2zM1310 274h1v1h-1zM1308 275h2v1h-2zM1306 276h2v1h-2zM1304 277h2v1h-2zM1302 278h2v1h-2zM1300 279h2v1h-2zM1298 280h2v1h-2zM1296 281h2v1h-2zM1294 282h2v1h-2zM1292 283h2v1h-2zM1290 284h2v1h-2zM1288 285h2v1h-2zM1285 286h3v1h-3zM1283 287h2v1h-2zM1281 288h2v1h-2zM1279 289h2v1h-2zM1277 290h2v1h-2zM1274 291h3v1h-3zM1272 292h2v1h-2zM1270 293h2v1h-2zM1268 294h2v1h-2zM1266 295h2v1h-2zM1264 296h2v1h-2zM1262 297h2v1h-2zM1260 298h2v1h-2zM1258 299h2v1h-2zM1257 300h1v1h-1zM1255 301h2v1h-2zM1254 302h1v1h-1zM1252 303h2v1h-2zM1250 304h2v1h-2zM1249 305h1v1h-1zM1247 306h2v1h-2zM1246 307h1v1h-1zM1244 308h2v1h-2zM1242 309h2v1h-2zM1241 310h1v1h-1zM1239 311h2v1h-2zM1238 312h1v1h-1zM1236 313h2v1h-2zM1234 314h2v1h-2zM1233 315h1v1h-1zM1231 316h2v1h-2zM1229 317h2v1h-2zM1227 318h2v1h-2zM1224 319h3v1h-3zM1221 320h3v1h-3zM1219 321h2v1h-2zM1216 322h3v1h-3zM1213 323h3v1h-3zM1211 324h2v1h-2zM1208 325h3v1h-3zM1205 326h3v1h-3zM1203 327h2v1h-2zM1201 328h2v1h-2zM1199 329h2v1h-2zM1197 330h2v1h-2zM1195 331h2v1h-2zM1193 332h2v1h-2zM1191 333h2v1h-2zM1189 334h2v1h-2zM1187 335h2v1h-2zM1185 336h2v1h-2zM1183 337h2v1h-2zM1181 338h2v1h-2zM1180 339h1v1h-1zM1178 340h2v1h-2zM1176 341h2v1h-2zM1174 342h2v1h-2zM1172 343h2v1h-2zM1170 344h2v1h-2zM1168 345h2v1h-2zM1166 346h2v1h-2zM1164 347h2v1h-2zM1162 348h2v1h-2zM1161 349h1v1h-1zM1159 350h2v1h-2zM1157 351h2v1h-2zM1155 352h2v1h-2zM1153 353h2v1h-2zM1151 354h2v1h-2zM1149 355h2v1h-2zM1147 356h2v1h-2zM1145 357h2v1h-2zM1143 358h2v1h-2zM1141 359h2v1h-2zM1139 360h2v1h-2zM1136 361h3v1h-3zM1132 362h4v1h-4zM1129 363h3v1h-3zM1126 364h3v1h-3zM1122 365h4v1h-4zM1116 366h6v1h-6zM1111 367h5v1h-5zM1106 368h5v1h-5zM1100 369h6v1h-6zM1094 370h6v1h-6zM1087 371h7v1h-7zM1081 372h6v1h-6zM1074 373h7v1h-7zM1069 374h5v1h-5zM1065 375h4v1h-4zM1061 376h4v1h-4zM1058 377h3v1h-3zM1054 378h4v1h-4zM1048 379h6v1h-6zM1040 380h8v1h-8zM1031 381h9v1h-9zM1023 382h8v1h-8zM1013 383h10v1h-10zM1003 384h10v1h-10zM994 385h9v1h-9zM988 386h6v1h-6zM982 387h6v1h-6zM970 388h12v1h-12zM947 389h23v1h-23zM928 390h19v1h-19zM919 391h9v1h-9zM911 392h8v1h-8zM898 393h13v1h-13zM888 394h10v1h-10zM883 395h5v1h-5zM879 396h4v1h-4zM874 397h5v1h-5zM869 398h5v1h-5zM865 399h4v1h-4zM861 400h4v1h-4zM858 401h3v1h-3zM854 402h4v1h-4zM851 403h3v1h-3zM848 404h3v1h-3zM845 405h3v1h-3zM842 406h3v1h-3zM838 407h4v1h-4zM835 408h3v1h-3zM832 409h3v1h-3zM830 410h2v1h-2zM827 411h3v1h-3zM825 412h2v1h-2zM823 413h2v1h-2zM820 414h3v1h-3zM818 415h2v1h-2zM815 416h3v1h-3zM813 417h2v1h-2zM811 418h2v1h-2zM808 419h3v1h-3zM806 420h2v1h-2zM803 421h3v1h-3zM801 422h2v1h-2zM799 423h2v1h-2zM797 424h2v1h-2zM795 425h2v1h-2zM793 426h2v1h-2zM791 427h2v1h-2zM788 428h3v1h-3zM786 429h2v1h-2zM784 430h2v1h-2zM781 431h3v1h-3zM779 432h2v1h-2zM776 433h3v1h-3zM773 434h3v1h-3zM770 435h3v1h-3zM767 436h3v1h-3zM764 437h3v1h-3zM760 438h4v1h-4zM756 439h4v1h-4zM751 440h5v1h-5zM747 441h4v1h-4zM743 442h4v1h-4zM739 443h4v1h-4zM735 444h4v1h-4zM731 445h4v1h-4zM727 446h4v1h-4zM723 447h4v1h-4zM719 448h4v1h-4zM713 449h6v1h-6zM707 450h6v1h-6zM701 451h6v1h-6zM695 452h6v1h-6zM690 453h5v1h-5zM685 454h5v1h-5zM681 455h4v1h-4zM676 456h5v1h-5zM671 457h5v1h-5zM667 458h4v1h-4zM661 459h6v1h-6zM653 460h8v1h-8zM645 461h8v1h-8zM634 462h11v1h-11zM626 463h8v1h-8zM622 464h4v1h-4zM618 465h4v1h-4zM614 466h4v1h-4zM611 467h3v1h-3zM607 468h4v1h-4zM603 469h4v1h-4zM600 470h3v1h-3zM596 471h4v1h-4zM592 472h4v1h-4zM588 473h4v1h-4zM584 474h4v1h-4zM580 475h4v1h-4zM576 476h4v1h-4zM574 477h2v1h-2zM572 478h2v1h-2zM569 479h3v1h-3zM567 480h2v1h-2zM564 481h3v1h-3zM562 482h2v1h-2zM560 483h2v1h-2zM557 484h3v1h-3zM555 485h2v1h-2zM552 486h3v1h-3zM550 487h2v1h-2zM547 488h3v1h-3zM545 489h2v1h-2zM543 490h2v1h-2zM540 491h3v1h-3zM538 492h2v1h-2zM535 493h3v1h-3zM533 494h2v1h-2zM530 495h3v1h-3zM528 496h2v1h-2zM525 497h3v1h-3zM523 498h2v1h-2zM521 499h2v1h-2zM518 500h3v1h-3zM516 501h2v1h-2zM513 502h3v1h-3zM511 503h2v1h-2zM508 504h3v1h-3zM506 505h2v1h-2zM501 506h5v1h-5zM495 507h6v1h-6zM488 508h7v1h-7zM482 509h6v1h-6zM57 510h10v1h-10zM476 510h6v1h-6zM51 511h6v1h-6zM67 511h10v1h-10zM470 511h6v1h-6zM6 512h3v1h-3zM45 512h6v1h-6zM77 512h4v1h-4zM465 512h5v1h-5zM9 513h5v1h-5zM37 513h8v1h-8zM81 513h5v1h-5zM460 513h5v1h-5zM14 514h6v1h-6zM27 514h10v1h-10zM86 514h4v1h-4zM455 514h5v1h-5zM20 515h7v1h-7zM90 515h2v1h-2zM450 515h5v1h-5zM92 516h3v1h-3zM445 516h5v1h-5zM95 517h3v1h-3zM435 517h10v1h-10zM98 518h2v1h-2zM421 518h14v1h-14zM100 519h3v1h-3zM412 519h9v1h-9zM103 520h4v1h-4zM406 520h6v1h-6zM107 521h5v1h-5zM400 521h6v1h-6zM112 522h6v1h-6zM395 522h5v1h-5zM118 523h6v1h-6zM389 523h6v1h-6zM124 524h7v1h-7zM224 524h12v1h-12zM379 524h10v1h-10zM131 525h10v1h-10zM215 525h9v1h-9zM236 525h15v1h-15zM370 525h9v1h-9zM141 526h9v1h-9zM207 526h8v1h-8zM251 526h19v1h-19zM364 526h6v1h-6zM150 527h6v1h-6zM199 527h8v1h-8zM270 527h4v1h-4zM336 527h28v1h-28zM156 528h6v1h-6zM193 528h6v1h-6zM274 528h14v1h-14zM332 528h4v1h-4zM162 529h13v1h-13zM187 529h6v1h-6zM288 529h44v1h-44zM175 530h12v1h-12z" fill="#ff00ff"/><path d="M1333 133h2v1h-2zM1329 134h4v1h-4zM1325 135h4v1h-4zM1321 136h4v1h-4zM1318 137h3v1h-3zM1316 138h2v1h-2zM1313 139h3v1h-3zM1310 140h3v1h-3zM1308 141h2v1h-2zM1306 142h2v1h-2zM1304 143h2v1h-2zM1303 144h1v1h-1zM1301 145h2v1h-2zM1300 146h1v1h-1zM1298 147h2v1h-2zM1297 148h1v1h-1zM1295 149h2v1h-2zM1294 150h1v1h-1zM1293 151h1v1h-1zM1292 152h1v1h-1zM1291 153h1v1h-1zM1289 154h2v1h-2zM1288 155h1v1h-1zM1287 156h1v1h-1zM1286 157h1v1h-1zM1285 158h1v1h-1zM1284 159h1v1h-1zM1282 160h2v1h-2zM1281 161h1v1h-1zM1279 162h2v1h-2zM1278 163h1v1h-1zM1276 164h2v1h-2zM1275 165h1v1h-1zM1273 166h2v1h-2zM1272 167h1v1h-1zM1271 168h1v1h-1zM1271 169h1v1h-1zM1270 170h1v1h-1zM1269 171h1v1h-1zM1268 172h1v1h-1zM1268 173h1v1h-1zM1267 174h1v1h-1zM1266 175h1v1h-1zM1265 176h1v1h-1zM1265 177h1v1h-1zM1264 178h1v1h-1zM1263 179h1v1h-1zM1262 180h1v1h-1zM1262 181h1v1h-1zM1261 182h1v1h-1zM1260 183h1v1h-1zM1260 184h1v1h-1zM1259 185h1v1h-1zM1258 186h1v1h-1zM1257 187h1v1h-1zM1257 188h1v1h-1zM1256 189h1v1h-1zM1255 190h1v1h-1zM1254 191h1v1h-1zM1254 192h1v1h-1zM1253 193h1v1h-1zM1252 194h1v1h-1zM1251 195h1v1h-1zM1251 196h1v1h-1zM1250 197h1v1h-1zM1249 198h1v1h-1zM1249 199h1v1h-1zM1248 200h1v1h-1zM1247 201h1v1h-1zM1247 202h1v1h-1zM1246 203h1v1h-1zM1245 204h1v1h-1zM1245 205h1v1h-1zM1244 206h1v1h-1zM1243 207h1v1h-1zM1242 208h1v1h-1zM1242 209h1v1h-1zM1241 210h1v1h-1zM1240 211h1v1h-1zM1240 212h1v1h-1zM1239 213h1v1h-1zM1238 214h1v1h-1zM1238 215h1v1h-1zM1237 216h1v1h-1zM1236 217h1v1h-1zM1236 218h1v1h-1zM1235 219h1v1h-1zM1234 220h1v1h-1zM1234 221h1v1h-1zM1233 222h1v1h-1zM1232 223h1v1h-1zM1231 224h1v1h-1zM1231 225h1v1h-1zM1230 226h1v1h-1zM1229 227h1v1h-1zM1229 228h1v1h-1zM1228 229h1v1h-1zM1227 230h1v1h-1zM1227 231h1v1h-1zM1226 232h1v1h-1zM1225 233h1v1h-1zM1224 234h1v1h-1zM1224 235h1v1h-1zM1223 236h1v1h-1zM1222 237h1v1h-1zM1221 238h1v1h-1zM1221 239h1v1h-1zM1220 240h1v1h-1zM1219 241h1v1h-1zM1218 242h1v1h-1zM1218 243h1v1h-1zM1217 244h1v1h-1zM1216 245h1v1h-1zM1215 246h1v1h-1zM1215 247h1v1h-1zM1214 248h1v1h-1zM1213 249h1v1h-1zM1212 250h1v1h-1zM1211 251h1v1h-1zM1211 252h1v1h-1zM1210 253h1v1h-1zM1209 254h1v1h-1zM1208 255h1v1h-1zM1208 256h1v1h-1zM1207 257h1v1h-1zM1206 258h1v1h-1zM1205 259h1v1h-1zM1204 260h1v1h-1zM1204 261h1v1h-1zM1203 262h1v1h-1zM1202 263h1v1h-1zM1201 264h1v1h-1zM1201 265h1v1h-1zM1200 266h1v1h-1zM1199 267h1v1h-1zM1198 268h1v1h-1zM1198 269h1v1h-1zM1197 270h1v1h-1zM1196 271h1v1h-1zM1195 272h1v1h-1zM1194 273h1v1h-1zM1194 274h1v1h-1zM1193 275h1v1h-1zM1192 276h1v1h-1zM1191 277h1v1h-1zM1191 278h1v1h-1zM1190 279h1v1h-1zM1189 280h1v1h-1zM1188 281h1v1h-1zM1187 282h1v1h-1zM1187 283h1v1h-1zM1186 284h1v1h-1zM1185 285h1v1h-1zM1184 286h1v1h-1zM1184 287h1v1h-1zM1183 288h1v1h-1zM1182 289h1v1h-1zM1181 290h1v1h-1zM1181 291h1v1h-1zM1180 292h1v1h-1zM1179 293h1v1h-1zM1178 294h1v1h-1zM1178 295h1v1h-1zM1177 296h1v1h-1zM1176 297h1v1h-1zM1175 298h1v1h-1zM1175 299h1v1h-1zM1174 300h1v1h-1zM1173 301h1v1h-1zM1172 302h1v1h-1zM1172 303h1v1h-1zM1171 304h1v1h-1zM1170 305h1v1h-1zM1169 306h1v1h-1zM1169 307h1v1h-1zM1168 308h1v1h-1zM1167 309h1v1h-1zM1166 310h1v1h-1zM1166 311h1v1h-1zM1165 312h1v1h-1zM1164 313h1v1h-1zM1163 314h1v1h-1zM1162 315h1v1h-1zM1161 316h1v1h-1zM1160 317h1v1h-1zM1158 318h2v1h-2zM1157 319h1v1h-1zM1156 320h1v1h-1zM1155 321h1v1h-1zM1154 322h1v1h-1zM1153 323h1v1h-1zM1152 324h1v1h-1zM1151 325h1v1h-1zM1150 326h1v1h-1zM1149 327h1v1h-1zM1148 328h1v1h-1zM1146 329h2v1h-2zM1145 330h1v1h-1zM1144 331h1v1h-1zM1143 332h1v1h-1zM1142 333h1v1h-1zM1141 334h1v1h-1zM1140 335h1v1h-1zM1139 336h1v1h-1zM1137 337h2v1h-2zM1136 338h1v1h-1zM1135 339h1v1h-1zM1133 340h2v1h-2zM1132 341h1v1h-1zM1131 342h1v1h-1zM1129 343h2v1h-2zM1128 344h1v1h-1zM1127 345h1v1h-1zM1125 346h2v1h-2zM1124 347h1v1h-1zM1122 348h2v1h-2zM1121 349h1v1h-1zM1120 350h1v1h-1zM1118 351h2v1h-2zM1116 352h2v1h-2zM1114 353h2v1h-2zM1112 354h2v1h-2zM1110 355h2v1h-2zM1108 356h2v1h-2zM1106 357h2v1h-2zM1104 358h2v1h-2zM1102 359h2v1h-2zM1100 360h2v1h-2zM1098 361h2v1h-2zM1096 362h2v1h-2zM883 363h11v1h-11zM1093 363h3v1h-3zM869 364h14v1h-14zM894 364h8v1h-8zM1090 364h3v1h-3zM857 365h12v1h-12zM902 365h6v1h-6zM1087 365h3v1h-3zM846 366h11v1h-11zM908 366h4v1h-4zM1084 366h3v1h-3zM837 367h9v1h-9zM912 367h4v1h-4zM1081 367h3v1h-3zM831 368h6v1h-6zM916 368h5v1h-5zM1078 368h3v1h-3zM825 369h6v1h-6zM921 369h4v1h-4zM1076 369h2v1h-2zM821 370h4v1h-4zM925 370h5v1h-5zM1073 370h3v1h-3zM819 371h2v1h-2zM930 371h4v1h-4zM1070 371h3v1h-3zM816 372h3v1h-3zM934 372h3v1h-3zM1068 372h2v1h-2zM814 373h2v1h-2zM937 373h2v1h-2zM1066 373h2v1h-2zM811 374h3v1h-3zM939 374h3v1h-3zM1064 374h2v1h-2zM809 375h2v1h-2zM942 375h3v1h-3zM1062 375h2v1h-2zM806 376h3v1h-3zM945 376h2v1h-2zM1060 376h2v1h-2zM804 377h2v1h-2zM947 377h3v1h-3zM1059 377h1v1h-1zM801 378h3v1h-3zM950 378h6v1h-6zM1057 378h2v1h-2zM799 379h2v1h-2zM956 379h8v1h-8zM1055 379h2v1h-2zM796 380h3v1h-3zM964 380h7v1h-7zM1053 380h2v1h-2zM794 381h2v1h-2zM971 381h4v1h-4zM1049 381h4v1h-4zM792 382h2v1h-2zM975 382h5v1h-5zM1043 382h6v1h-6zM790 383h2v1h-2zM980 383h7v1h-7zM1001 383h25v1h-25zM1037 383h6v1h-6zM788 384h2v1h-2zM987 384h14v1h-14zM1026 384h11v1h-11zM786 385h2v1h-2zM784 386h2v1h-2zM782 387h2v1h-2zM780 388h2v1h-2zM778 389h2v1h-2zM776 390h2v1h-2zM775 391h1v1h-1zM773 392h2v1h-2zM771 393h2v1h-2zM770 394h1v1h-1zM768 395h2v1h-2zM767 396h1v1h-1zM765 397h2v1h-2zM763 398h2v1h-2zM758 399h5v1h-5zM753 400h5v1h-5zM751 401h2v1h-2zM750 402h1v1h-1zM748 403h2v1h-2zM746 404h2v1h-2zM743 405h3v1h-3zM741 406h2v1h-2zM738 407h3v1h-3zM736 408h2v1h-2zM667 409h47v1h-47zM727 409h9v1h-9zM663 410h4v1h-4zM714 410h13v1h-13zM658 411h5v1h-5zM654 412h4v1h-4zM650 413h4v1h-4zM645 414h5v1h-5zM641 415h4v1h-4zM637 416h4v1h-4zM633 417h4v1h-4zM630 418h3v1h-3zM628 419h2v1h-2zM625 420h3v1h-3zM622 421h3v1h-3zM620 422h2v1h-2zM617 423h3v1h-3zM614 424h3v1h-3zM611 425h3v1h-3zM609 426h2v1h-2zM606 427h3v1h-3zM603 428h3v1h-3zM601 429h2v1h-2zM599 430h2v1h-2zM597 431h2v1h-2zM596 432h1v1h-1zM594 433h2v1h-2zM593 434h1v1h-1zM592 435h1v1h-1zM590 436h2v1h-2zM589 437h1v1h-1zM587 438h2v1h-2zM585 439h2v1h-2zM582 440h3v1h-3zM579 441h3v1h-3zM576 442h3v1h-3zM572 443h4v1h-4zM569 444h3v1h-3zM565 445h4v1h-4zM562 446h3v1h-3zM560 447h2v1h-2zM558 448h2v1h-2zM556 449h2v1h-2zM554 450h2v1h-2zM552 451h2v1h-2zM550 452h2v1h-2zM548 453h2v1h-2zM547 454h1v1h-1zM545 455h2v1h-2zM544 456h1v1h-1zM543 457h1v1h-1zM541 458h2v1h-2zM540 459h1v1h-1zM539 460h1v1h-1zM537 461h2v1h-2zM536 462h1v1h-1zM535 463h1v1h-1zM533 464h2v1h-2zM532 465h1v1h-1zM531 466h1v1h-1zM530 467h1v1h-1zM529 468h1v1h-1zM528 469h1v1h-1zM526 470h2v1h-2zM525 471h1v1h-1zM524 472h1v1h-1zM523 473h1v1h-1zM522 474h1v1h-1zM521 475h1v1h-1zM520 476h1v1h-1zM518 477h2v1h-2zM517 478h1v1h-1zM516 479h1v1h-1zM515 480h1v1h-1zM514 481h1v1h-1zM338 482h16v1h-16zM513 482h1v1h-1zM336 483h2v1h-2zM354 483h2v1h-2zM511 483h2v1h-2zM334 484h2v1h-2zM356 484h2v1h-2zM510 484h1v1h-1zM332 485h2v1h-2zM358 485h2v1h-2zM509 485h1v1h-1zM330 486h2v1h-2zM360 486h2v1h-2zM508 486h1v1h-1zM328 487h2v1h-2zM362 487h2v1h-2zM507 487h1v1h-1zM325 488h3v1h-3zM364 488h2v1h-2zM505 488h2v1h-2zM323 489h2v1h-2zM366 489h2v1h-2zM504 489h1v1h-1zM320 490h3v1h-3zM368 490h2v1h-2zM502 490h2v1h-2zM317 491h3v1h-3zM370 491h2v1h-2zM499 491h3v1h-3zM315 492h2v1h-2zM372 492h4v1h-4zM497 492h2v1h-2zM312 493h3v1h-3zM376 493h4v1h-4zM494 493h3v1h-3zM310 494h2v1h-2zM380 494h4v1h-4zM490 494h4v1h-4zM308 495h2v1h-2zM384 495h4v1h-4zM487 495h3v1h-3zM306 496h2v1h-2zM388 496h4v1h-4zM484 496h3v1h-3zM304 497h2v1h-2zM392 497h4v1h-4zM480 497h4v1h-4zM302 498h2v1h-2zM396 498h9v1h-9zM476 498h4v1h-4zM300 499h2v1h-2zM405 499h11v1h-11zM471 499h5v1h-5zM298 500h2v1h-2zM416 500h8v1h-8zM465 500h6v1h-6zM296 501h2v1h-2zM424 501h7v1h-7zM460 501h5v1h-5zM294 502h2v1h-2zM431 502h6v1h-6zM449 502h11v1h-11zM292 503h2v1h-2zM437 503h12v1h-12zM290 504h2v1h-2zM288 505h2v1h-2zM286 506h2v1h-2zM284 507h2v1h-2zM282 508h2v1h-2zM280 509h2v1h-2zM279 510h1v1h-1zM277 511h2v1h-2zM275 512h2v1h-2zM274 513h1v1h-1zM272 514h2v1h-2zM271 515h1v1h-1zM269 516h2v1h-2zM267 517h2v1h-2zM266 518h1v1h-1zM264 519h2v1h-2zM263 520h1v1h-1zM261 521h2v1h-2zM259 522h2v1h-2zM257 523h2v1h-2zM254 524h3v1h-3zM251 525h3v1h-3zM248 526h3v1h-3zM245 527h3v1h-3zM6 528h1v1h-1zM242 528h3v1h-3zM7 529h1v1h-1zM240 529h2v1h-2zM8 530h2v1h-2zM238 530h2v1h-2zM10 531h1v1h-1zM236 531h2v1h-2zM11 532h1v1h-1zM234 532h2v1h-2zM12 533h1v1h-1zM231 533h3v1h-3zM13 534h2v1h-2zM229 534h2v1h-2zM15 535h1v1h-1zM227 535h2v1h-2zM16 536h1v1h-1zM225 536h2v1h-2zM17 537h2v1h-2zM223 537h2v1h-2zM19 538h2v1h-2zM220 538h3v1h-3zM21 539h2v1h-2zM217 539h3v1h-3zM23 540h1v1h-1zM214 540h3v1h-3zM24 541h2v1h-2zM211 541h3v1h-3zM26 542h2v1h-2zM209 542h2v1h-2zM28 543h2v1h-2zM34 543h7v1h-7zM206 543h3v1h-3zM30 544h4v1h-4zM41 544h4v1h-4zM60 544h5v1h-5zM203 544h3v1h-3zM45 545h5v1h-5zM55 545h5v1h-5zM65 545h6v1h-6zM200 545h3v1h-3zM50 546h5v1h-5zM71 546h7v1h-7zM198 546h2v1h-2zM78 547h8v1h-8zM196 547h2v1h-2zM86 548h9v1h-9zM194 548h2v1h-2zM95 549h9v1h-9zM192 549h2v1h-2zM104 550h23v1h-23zM190 550h2v1h-2zM127 551h5v1h-5zM189 551h1v1h-1zM132 552h6v1h-6zM187 552h2v1h-2zM138 553h6v1h-6zM185 553h2v1h-2zM144 554h6v1h-6zM183 554h2v1h-2zM150 555h5v1h-5zM180 555h3v1h-3zM155 556h5v1h-5zM175 556h5v1h-5zM160 557h5v1h-5zM170 557h5v1h-5zM165 558h5v1h-5z" fill="#ffa500"/><rect x="7" y="102" width="1686" height="2" fill="#ff0000"/><rect x="7" y="167" width="1686" height="2" fill="#32cd32"/><rect x="7" y="230" width="1686" height="2" fill="#4169e1"/><rect x="7" y="329" width="1686" height="2" fill="#4169e1"/></g><g clip-path="url(#cmacd)" shape-rendering="crispEdges"><rect x="7" y="713" width="1" height="19" fill="#c0c0c0"/><rect x="15" y="713" width="1" height="21" fill="#c0c0c0"/><rect x="23" y="713" width="1" height="22" fill="#c0c0c0"/><rect x="31" y="713" width="1" height="19" fill="#c0c0c0"/><rect x="39" y="713" width="1" height="12" fill="#c0c0c0"/><rect x="47" y="713" width="1" height="8" fill="#c0c0c0"/><rect x="55" y="713" width="1" height="7" fill="#c0c0c0"/><rect x="63" y="713" width="1" height="4" fill="#c0c0c0"/><rect x="71" y="713" width="1" height="6" fill="#c0c0c0"/><rect x="79" y="713" width="1" height="7" fill="#c0c0c0"/><rect x="87" y="713" width="1" height="8" fill="#c0c0c0"/><rect x="95" y="713" width="1" height="10" fill="#c0c0c0"/><rect x="103" y="713" width="1" height="17" fill="#c0c0c0"/><rect x="111" y="713" width="1" height="20" fill="#c0c0c0"/><rect x="119" y="713" width="1" height="21" fill="#c0c0c0"/><rect x="127" y="713" width="1" height="21" fill="#c0c0c0"/><rect x="135" y="713" width="1" height="21" fill="#c0c0c0"/><rect x="143" y="713" width="1" height="18" fill="#c0c0c0"/><rect x="151" y="713" width="1" height="18" fill="#c0c0c0"/><rect x="159" y="713" width="1" height="15" fill="#c0c0c0"/><rect x="167" y="713" width="1" height="16" fill="#c0c0c0"/><rect x="175" y="713" width="1" height="9" fill="#c0c0c0"/><rect x="183" y="713" width="1" height="5" fill="#c0c0c0"/><rect x="191" y="708" width="1" height="6" fill="#c0c0c0"/><rect x="199" y="698" width="1" height="16" fill="#c0c0c0"/><rect x="207" y="691" width="1" height="23" fill="#c0c0c0"/><rect x="215" y="685" width="1" height="29" fill="#c0c0c0"/><rect x="223" y="682" width="1" height="32" fill="#c0c0c0"/><rect x="231" y="679" width="1" height="35" fill="#c0c0c0"/><rect x="239" y="679" width="1" height="35" fill="#c0c0c0"/><rect x="247" y="679" width="1" height="35" fill="#c0c0c0"/><rect x="255" y="682" width="1" height="32" fill="#c0c0c0"/><rect x="263" y="684" width="1" height="30" fill="#c0c0c0"/><rect x="271" y="686" width="1" height="28" fill="#c0c0c0"/><rect x="279" y="689" width="1" height="25" fill="#c0c0c0"/><rect x="287" y="691" width="1" height="23" fill="#c0c0c0"/><rect x="295" y="692" width="1" height="22" fill="#c0c0c0"/><rect x="303" y="695" width="1" height="19" fill="#c0c0c0"/><rect x="311" y="695" width="1" height="19" fill="#c0c0c0"/><rect x="319" y="698" width="1" height="16" fill="#c0c0c0"/><rect x="327" y="699" width="1" height="15" fill="#c0c0c0"/><rect x="335" y="699" width="1" height="15" fill="#c0c0c0"/><rect x="343" y="702" width="1" height="12" fill="#c0c0c0"/><rect x="351" y="707" width="1" height="7" fill="#c0c0c0"/><rect x="359" y="712" width="1" height="2" fill="#c0c0c0"/><rect x="367" y="713" width="1" height="1" fill="#c0c0c0"/><rect x="375" y="713" width="1" height="3" fill="#c0c0c0"/><rect x="383" y="713" width="1" height="3" fill="#c0c0c0"/><rect x="391" y="713" width="1" height="2" fill="#c0c0c0"/><rect x="399" y="713" width="1" height="1" fill="#c0c0c0"/><rect x="407" y="710" width="1" height="4" fill="#c0c0c0"/><rect x="415" y="709" width="1" height="5" fill="#c0c0c0"/><rect x="423" y="712" width="1" height="2" fill="#c0c0c0"/><rect x="431" y="713" width="1" height="1" fill="#c0c0c0"/><rect x="439" y="713" width="1" height="1" fill="#c0c0c0"/><rect x="447" y="712" width="1" height="2" fill="#c0c0c0"/><rect x="455" y="710" width="1" height="4" fill="#c0c0c0"/><rect x="463" y="707" width="1" height="7" fill="#c0c0c0"/><rect x="471" y="704" width="1" height="10" fill="#c0c0c0"/><rect x="479" y="699" width="1" height="15" fill="#c0c0c0"/><rect x="487" y="693" width="1" height="21" fill="#c0c0c0"/><rect x="495" y="692" width="1" height="22" fill="#c0c0c0"/><rect x="503" y="688" width="1" height="26" fill="#c0c0c0"/><rect x="511" y="679" width="1" height="35" fill="#c0c0c0"/><rect x="519" y="673" width="1" height="41" fill="#c0c0c0"/><rect x="527" y="670" width="1" height="44" fill="#c0c0c0"/><rect x="535" y="668" width="1" height="46" fill="#c0c0c0"/><rect x="543" y="668" width="1" height="46" fill="#c0c0c0"/><rect x="551" y="671" width="1" height="43" fill="#c0c0c0"/><rect x="559" y="674" width="1" height="40" fill="#c0c0c0"/><rect x="567" y="677" width="1" height="37" fill="#c0c0c0"/><rect x="575" y="682" width="1" height="32" fill="#c0c0c0"/><rect x="583" y="687" width="1" height="27" fill="#c0c0c0"/><rect x="591" y="688" width="1" height="26" fill="#c0c0c0"/><rect x="599" y="689" width="1" height="25" fill="#c0c0c0"/><rect x="607" y="691" width="1" height="23" fill="#c0c0c0"/><rect x="615" y="692" width="1" height="22" fill="#c0c0c0"/><rect x="623" y="693" width="1" height="21" fill="#c0c0c0"/><rect x="631" y="695" width="1" height="19" fill="#c0c0c0"/><rect x="639" y="695" width="1" height="19" fill="#c0c0c0"/><rect x="647" y="695" width="1" height="19" fill="#c0c0c0"/><rect x="655" y="695" width="1" height="19" fill="#c0c0c0"/><rect x="663" y="694" width="1" height="20" fill="#c0c0c0"/><rect x="671" y="692" width="1" height="22" fill="#c0c0c0"/><rect x="679" y="689" width="1" height="25" fill="#c0c0c0"/><rect x="687" y="688" width="1" height="26" fill="#c0c0c0"/><rect x="695" y="688" width="1" height="26" fill="#c0c0c0"/><rect x="703" y="689" width="1" height="25" fill="#c0c0c0"/><rect x="711" y="693" width="1" height="21" fill="#c0c0c0"/><rect x="719" y="697" width="1" height="17" fill="#c0c0c0"/><rect x="727" y="699" width="1" height="15" fill="#c0c0c0"/><rect x="735" y="701" width="1" height="13" fill="#c0c0c0"/><rect x="743" y="698" width="1" height="16" fill="#c0c0c0"/><rect x="751" y="693" width="1" height="21" fill="#c0c0c0"/><rect x="759" y="695" width="1" height="19" fill="#c0c0c0"/><rect x="767" y="691" width="1" height="23" fill="#c0c0c0"/><rect x="775" y="687" width="1" height="27" fill="#c0c0c0"/><rect x="783" y="684" width="1" height="30" fill="#c0c0c0"/><rect x="791" y="682" width="1" height="32" fill="#c0c0c0"/><rect x="799" y="681" width="1" height="33" fill="#c0c0c0"/><rect x="807" y="681" width="1" height="33" fill="#c0c0c0"/><rect x="815" y="683" width="1" height="31" fill="#c0c0c0"/><rect x="823" y="682" width="1" height="32" fill="#c0c0c0"/><rect x="831" y="685" width="1" height="29" fill="#c0c0c0"/><rect x="839" y="687" width="1" height="27" fill="#c0c0c0"/><rect x="847" y="690" width="1" height="24" fill="#c0c0c0"/><rect x="855" y="693" width="1" height="21" fill="#c0c0c0"/><rect x="863" y="695" width="1" height="19" fill="#c0c0c0"/><rect x="871" y="700" width="1" height="14" fill="#c0c0c0"/><rect x="879" y="704" width="1" height="10" fill="#c0c0c0"/><rect x="887" y="709" width="1" height="5" fill="#c0c0c0"/><rect x="895" y="713" width="1" height="1" fill="#c0c0c0"/><rect x="903" y="713" width="1" height="7" fill="#c0c0c0"/><rect x="911" y="713" width="1" height="9" fill="#c0c0c0"/><rect x="919" y="713" width="1" height="10" fill="#c0c0c0"/><rect x="927" y="713" width="1" height="11" fill="#c0c0c0"/><rect x="935" y="713" width="1" height="10" fill="#c0c0c0"/><rect x="943" y="713" width="1" height="10" fill="#c0c0c0"/><rect x="951" y="713" width="1" height="8" fill="#c0c0c0"/><rect x="959" y="713" width="1" height="5" fill="#c0c0c0"/><rect x="967" y="713" width="1" height="1" fill="#c0c0c0"/><rect x="975" y="712" width="1" height="2" fill="#c0c0c0"/><rect x="983" y="711" width="1" height="3" fill="#c0c0c0"/><rect x="991" y="708" width="1" height="6" fill="#c0c0c0"/><rect x="999" y="705" width="1" height="9" fill="#c0c0c0"/><rect x="1007" y="703" width="1" height="11" fill="#c0c0c0"/><rect x="1015" y="706" width="1" height="8" fill="#c0c0c0"/><rect x="1023" y="705" width="1" height="9" fill="#c0c0c0"/><rect x="1031" y="706" width="1" height="8" fill="#c0c0c0"/><rect x="1039" y="706" width="1" height="8" fill="#c0c0c0"/><rect x="1047" y="706" width="1" height="8" fill="#c0c0c0"/><rect x="1055" y="705" width="1" height="9" fill="#c0c0c0"/><rect x="1063" y="704" width="1" height="10" fill="#c0c0c0"/><rect x="1071" y="700" width="1" height="14" fill="#c0c0c0"/><rect x="1079" y="699" width="1" height="15" fill="#c0c0c0"/><rect x="1087" y="698" width="1" height="16" fill="#c0c0c0"/><rect x="1095" y="698" width="1" height="16" fill="#c0c0c0"/><rect x="1103" y="695" width="1" height="19" fill="#c0c0c0"/><rect x="1111" y="693" width="1" height="21" fill="#c0c0c0"/><rect x="1119" y="688" width="1" height="26" fill="#c0c0c0"/><rect x="1127" y="681" width="1" height="33" fill="#c0c0c0"/><rect x="1135" y="673" width="1" height="41" fill="#c0c0c0"/><rect x="1143" y="668" width="1" height="46" fill="#c0c0c0"/><rect x="1151" y="663" width="1" height="51" fill="#c0c0c0"/><rect x="1159" y="656" width="1" height="58" fill="#c0c0c0"/><rect x="1167" y="651" width="1" height="63" fill="#c0c0c0"/><rect x="1175" y="645" width="1" height="69" fill="#c0c0c0"/><rect x="1183" y="637" width="1" height="77" fill="#c0c0c0"/><rect x="1191" y="629" width="1" height="85" fill="#c0c0c0"/><rect x="1199" y="628" width="1" height="86" fill="#c0c0c0"/><rect x="1207" y="625" width="1" height="89" fill="#c0c0c0"/><rect x="1215" y="625" width="1" height="89" fill="#c0c0c0"/><rect x="1223" y="628" width="1" height="86" fill="#c0c0c0"/><rect x="1231" y="629" width="1" height="85" fill="#c0c0c0"/><rect x="1239" y="625" width="1" height="89" fill="#c0c0c0"/><rect x="1247" y="622" width="1" height="92" fill="#c0c0c0"/><rect x="1255" y="622" width="1" height="92" fill="#c0c0c0"/><rect x="1263" y="627" width="1" height="87" fill="#c0c0c0"/><rect x="1271" y="634" width="1" height="80" fill="#c0c0c0"/><rect x="1279" y="643" width="1" height="71" fill="#c0c0c0"/><rect x="1287" y="650" width="1" height="64" fill="#c0c0c0"/><rect x="1295" y="653" width="1" height="61" fill="#c0c0c0"/><rect x="1303" y="656" width="1" height="58" fill="#c0c0c0"/><rect x="1311" y="659" width="1" height="55" fill="#c0c0c0"/><rect x="1319" y="666" width="1" height="48" fill="#c0c0c0"/><rect x="1327" y="671" width="1" height="43" fill="#c0c0c0"/><rect x="1335" y="675" width="1" height="39" fill="#c0c0c0"/><path d="M1255 625h3v1h-3zM1261 625h3v1h-3zM1267 625h3v1h-3zM1249 626h3v1h-3zM1273 626h1v1h-1zM1243 627h3v1h-3zM1274 627h2v1h-2zM1279 628h3v1h-3zM1238 629h2v1h-2zM1285 629h3v1h-3zM1237 630h1v1h-1zM1291 630h1v1h-1zM1233 631h1v1h-1zM1292 631h2v1h-2zM1231 632h2v1h-2zM1297 632h1v1h-1zM1298 633h2v1h-2zM1226 634h2v1h-2zM1303 634h2v1h-2zM1225 635h1v1h-1zM1305 635h1v1h-1zM1221 636h1v1h-1zM1219 637h2v1h-2zM1309 637h1v1h-1zM1310 638h1v1h-1zM1214 639h2v1h-2zM1311 639h1v1h-1zM1213 640h1v1h-1zM1209 641h1v1h-1zM1207 642h2v1h-2zM1315 642h1v1h-1zM1316 643h2v1h-2zM1203 645h1v1h-1zM1202 646h1v1h-1zM1321 646h1v1h-1zM1201 647h1v1h-1zM1322 647h2v1h-2zM1197 650h1v1h-1zM1327 650h2v1h-2zM1196 651h1v1h-1zM1329 651h1v1h-1zM1195 652h1v1h-1zM1333 653h1v1h-1zM1334 654h1v1h-1zM1191 655h1v1h-1zM1190 656h1v1h-1zM1189 657h1v1h-1zM1184 660h2v1h-2zM1183 661h1v1h-1zM1179 664h1v1h-1zM1178 665h1v1h-1zM1177 666h1v1h-1zM1172 669h2v1h-2zM1171 670h1v1h-1zM560 673h2v1h-2zM565 673h3v1h-3zM571 673h3v1h-3zM577 673h3v1h-3zM583 673h3v1h-3zM1167 673h1v1h-1zM559 674h1v1h-1zM589 674h2v1h-2zM1166 674h1v1h-1zM555 675h1v1h-1zM591 675h1v1h-1zM1165 675h1v1h-1zM553 676h2v1h-2zM595 676h2v1h-2zM549 677h1v1h-1zM597 677h1v1h-1zM1160 677h2v1h-2zM547 678h2v1h-2zM601 678h2v1h-2zM1159 678h1v1h-1zM603 679h1v1h-1zM542 680h2v1h-2zM607 680h2v1h-2zM1155 680h1v1h-1zM541 681h1v1h-1zM609 681h1v1h-1zM1154 681h1v1h-1zM271 682h3v1h-3zM277 682h3v1h-3zM283 682h3v1h-3zM289 682h2v1h-2zM613 682h3v1h-3zM831 682h1v1h-1zM835 682h3v1h-3zM1153 682h1v1h-1zM265 683h3v1h-3zM291 683h1v1h-1zM295 683h2v1h-2zM536 683h2v1h-2zM619 683h2v1h-2zM825 683h1v1h-1zM829 683h2v1h-2zM841 683h3v1h-3zM847 683h3v1h-3zM259 684h3v1h-3zM297 684h1v1h-1zM301 684h2v1h-2zM535 684h1v1h-1zM621 684h1v1h-1zM819 684h1v1h-1zM823 684h2v1h-2zM853 684h3v1h-3zM1148 684h2v1h-2zM254 685h2v1h-2zM303 685h1v1h-1zM307 685h2v1h-2zM625 685h3v1h-3zM813 685h1v1h-1zM817 685h2v1h-2zM859 685h3v1h-3zM1147 685h1v1h-1zM253 686h1v1h-1zM309 686h1v1h-1zM313 686h1v1h-1zM531 686h1v1h-1zM631 686h1v1h-1zM811 686h2v1h-2zM865 686h2v1h-2zM314 687h2v1h-2zM529 687h2v1h-2zM632 687h2v1h-2zM805 687h3v1h-3zM867 687h1v1h-1zM1143 687h1v1h-1zM248 688h2v1h-2zM319 688h3v1h-3zM637 688h3v1h-3zM871 688h3v1h-3zM1141 688h2v1h-2zM247 689h1v1h-1zM325 689h3v1h-3zM643 689h1v1h-1zM799 689h3v1h-3zM331 690h1v1h-1zM524 690h2v1h-2zM644 690h2v1h-2zM649 690h1v1h-1zM697 690h3v1h-3zM703 690h3v1h-3zM709 690h3v1h-3zM794 690h2v1h-2zM877 690h1v1h-1zM1136 690h2v1h-2zM332 691h2v1h-2zM523 691h1v1h-1zM650 691h2v1h-2zM655 691h3v1h-3zM685 691h3v1h-3zM691 691h3v1h-3zM715 691h3v1h-3zM721 691h3v1h-3zM793 691h1v1h-1zM878 691h2v1h-2zM1135 691h1v1h-1zM243 692h1v1h-1zM337 692h3v1h-3zM661 692h3v1h-3zM674 692h2v1h-2zM679 692h3v1h-3zM727 692h3v1h-3zM733 692h3v1h-3zM739 692h1v1h-1zM787 692h3v1h-3zM241 693h2v1h-2zM519 693h1v1h-1zM667 693h3v1h-3zM673 693h1v1h-1zM740 693h2v1h-2zM745 693h3v1h-3zM751 693h3v1h-3zM775 693h3v1h-3zM781 693h3v1h-3zM883 693h3v1h-3zM1129 693h3v1h-3zM343 694h3v1h-3zM517 694h2v1h-2zM757 694h3v1h-3zM763 694h3v1h-3zM769 694h3v1h-3zM349 695h1v1h-1zM889 695h1v1h-1zM1124 695h2v1h-2zM237 696h1v1h-1zM350 696h2v1h-2zM513 696h1v1h-1zM890 696h2v1h-2zM1123 696h1v1h-1zM235 697h2v1h-2zM355 697h2v1h-2zM511 697h2v1h-2zM1117 697h3v1h-3zM357 698h1v1h-1zM895 698h3v1h-3zM1112 698h2v1h-2zM361 699h2v1h-2zM507 699h1v1h-1zM1111 699h1v1h-1zM231 700h1v1h-1zM363 700h1v1h-1zM505 700h2v1h-2zM901 700h1v1h-1zM1101 700h1v1h-1zM1105 700h3v1h-3zM230 701h1v1h-1zM367 701h3v1h-3zM902 701h2v1h-2zM1093 701h3v1h-3zM1099 701h2v1h-2zM229 702h1v1h-1zM501 702h1v1h-1zM1081 702h3v1h-3zM1087 702h3v1h-3zM373 703h3v1h-3zM499 703h2v1h-2zM907 703h2v1h-2zM1069 703h3v1h-3zM1075 703h3v1h-3zM225 704h1v1h-1zM379 704h1v1h-1zM495 704h1v1h-1zM909 704h1v1h-1zM1057 704h3v1h-3zM1063 704h3v1h-3zM224 705h1v1h-1zM380 705h2v1h-2zM489 705h1v1h-1zM493 705h2v1h-2zM913 705h1v1h-1zM1040 705h2v1h-2zM1045 705h3v1h-3zM1051 705h3v1h-3zM223 706h1v1h-1zM385 706h2v1h-2zM483 706h1v1h-1zM487 706h2v1h-2zM914 706h2v1h-2zM1033 706h3v1h-3zM1039 706h1v1h-1zM387 707h1v1h-1zM477 707h1v1h-1zM481 707h2v1h-2zM1027 707h3v1h-3zM219 708h1v1h-1zM391 708h3v1h-3zM471 708h1v1h-1zM475 708h2v1h-2zM919 708h2v1h-2zM1021 708h3v1h-3zM218 709h1v1h-1zM397 709h2v1h-2zM463 709h3v1h-3zM469 709h2v1h-2zM921 709h1v1h-1zM1016 709h2v1h-2zM217 710h1v1h-1zM399 710h1v1h-1zM457 710h3v1h-3zM925 710h1v1h-1zM1015 710h1v1h-1zM403 711h3v1h-3zM409 711h1v1h-1zM446 711h2v1h-2zM451 711h3v1h-3zM926 711h2v1h-2zM1009 711h3v1h-3zM213 712h1v1h-1zM410 712h2v1h-2zM415 712h3v1h-3zM421 712h1v1h-1zM434 712h2v1h-2zM439 712h3v1h-3zM445 712h1v1h-1zM212 713h1v1h-1zM422 713h2v1h-2zM427 713h3v1h-3zM433 713h1v1h-1zM931 713h2v1h-2zM1003 713h3v1h-3zM211 714h1v1h-1zM933 714h1v1h-1zM999 714h1v1h-1zM937 715h3v1h-3zM997 715h2v1h-2zM207 716h1v1h-1zM991 716h3v1h-3zM206 717h1v1h-1zM943 717h3v1h-3zM987 717h1v1h-1zM205 718h1v1h-1zM949 718h1v1h-1zM985 718h2v1h-2zM950 719h2v1h-2zM979 719h3v1h-3zM201 720h1v1h-1zM955 720h2v1h-2zM967 720h3v1h-3zM973 720h3v1h-3zM199 721h2v1h-2zM957 721h1v1h-1zM961 721h3v1h-3zM97 722h3v1h-3zM103 722h1v1h-1zM91 723h3v1h-3zM104 723h2v1h-2zM109 723h3v1h-3zM195 723h1v1h-1zM81 724h1v1h-1zM85 724h3v1h-3zM115 724h3v1h-3zM121 724h3v1h-3zM193 724h2v1h-2zM74 725h2v1h-2zM79 725h2v1h-2zM127 725h3v1h-3zM68 726h2v1h-2zM73 726h1v1h-1zM133 726h3v1h-3zM189 726h1v1h-1zM67 727h1v1h-1zM139 727h1v1h-1zM187 727h2v1h-2zM61 728h3v1h-3zM140 728h2v1h-2zM182 728h2v1h-2zM55 729h3v1h-3zM145 729h3v1h-3zM181 729h1v1h-1zM50 730h2v1h-2zM151 730h3v1h-3zM175 730h3v1h-3zM49 731h1v1h-1zM157 731h3v1h-3zM163 731h2v1h-2zM170 731h2v1h-2zM39 732h1v1h-1zM43 732h3v1h-3zM165 732h1v1h-1zM169 732h1v1h-1zM31 733h3v1h-3zM37 733h2v1h-2zM25 734h3v1h-3zM19 735h3v1h-3zM13 736h3v1h-3zM7 737h3v1h-3z" fill="#ff0000"/></g><g clip-path="url(#crsi)" shape-rendering="crispEdges"><line x1="8" y1="785.5" x2="1692" y2="785.5" stroke="#c0c0c0" stroke-width="1" stroke-dasharray="3 3"/><line x1="8" y1="835.5" x2="1692" y2="835.5" stroke="#c0c0c0" stroke-width="1" stroke-dasharray="3 3"/><path d="M1189 764h3v1h-3zM1185 765h4v1h-4zM1192 765h1v1h-1zM1182 766h3v1h-3zM1192 766h1v1h-1zM1179 767h3v1h-3zM1193 767h1v1h-1zM1177 768h2v1h-2zM1193 768h1v1h-1zM1174 769h3v1h-3zM1194 769h1v1h-1zM1171 770h3v1h-3zM1194 770h1v1h-1zM1169 771h2v1h-2zM1195 771h1v1h-1zM1158 772h11v1h-11zM1195 772h1v1h-1zM1134 773h2v1h-2zM1156 773h2v1h-2zM1196 773h1v1h-1zM1131 774h3v1h-3zM1136 774h1v1h-1zM1154 774h2v1h-2zM1196 774h1v1h-1zM1129 775h2v1h-2zM1137 775h2v1h-2zM1152 775h2v1h-2zM1197 775h1v1h-1zM1127 776h2v1h-2zM1139 776h1v1h-1zM1150 776h2v1h-2zM1197 776h1v1h-1zM1206 776h3v1h-3zM1126 777h1v1h-1zM1140 777h1v1h-1zM1147 777h3v1h-3zM1198 777h1v1h-1zM1203 777h3v1h-3zM1209 777h2v1h-2zM1125 778h1v1h-1zM1141 778h2v1h-2zM1145 778h2v1h-2zM1198 778h1v1h-1zM1201 778h2v1h-2zM1211 778h3v1h-3zM1239 778h10v1h-10zM1124 779h1v1h-1zM1143 779h2v1h-2zM1199 779h2v1h-2zM1214 779h2v1h-2zM1237 779h2v1h-2zM1249 779h4v1h-4zM511 780h1v1h-1zM1123 780h1v1h-1zM1216 780h1v1h-1zM1235 780h2v1h-2zM1253 780h3v1h-3zM510 781h1v1h-1zM512 781h2v1h-2zM1122 781h1v1h-1zM1217 781h1v1h-1zM1234 781h1v1h-1zM1256 781h1v1h-1zM510 782h1v1h-1zM514 782h1v1h-1zM1121 782h1v1h-1zM1218 782h1v1h-1zM1232 782h2v1h-2zM1256 782h1v1h-1zM509 783h1v1h-1zM515 783h2v1h-2zM1120 783h1v1h-1zM1219 783h1v1h-1zM1231 783h1v1h-1zM1257 783h1v1h-1zM508 784h1v1h-1zM517 784h2v1h-2zM1119 784h1v1h-1zM1219 784h1v1h-1zM1229 784h2v1h-2zM1258 784h1v1h-1zM507 785h1v1h-1zM519 785h9v1h-9zM1117 785h2v1h-2zM1220 785h1v1h-1zM1227 785h2v1h-2zM1259 785h1v1h-1zM507 786h1v1h-1zM528 786h2v1h-2zM1116 786h1v1h-1zM1221 786h1v1h-1zM1226 786h1v1h-1zM1259 786h1v1h-1zM485 787h3v1h-3zM506 787h1v1h-1zM530 787h2v1h-2zM1115 787h1v1h-1zM1222 787h1v1h-1zM1224 787h2v1h-2zM1260 787h1v1h-1zM481 788h4v1h-4zM488 788h1v1h-1zM505 788h1v1h-1zM532 788h2v1h-2zM678 788h2v1h-2zM751 788h1v1h-1zM1113 788h2v1h-2zM1223 788h1v1h-1zM1261 788h1v1h-1zM197 789h6v1h-6zM211 789h5v1h-5zM479 789h2v1h-2zM489 789h1v1h-1zM504 789h1v1h-1zM534 789h3v1h-3zM675 789h3v1h-3zM680 789h2v1h-2zM749 789h2v1h-2zM752 789h1v1h-1zM1112 789h1v1h-1zM1262 789h1v1h-1zM193 790h4v1h-4zM203 790h8v1h-8zM216 790h2v1h-2zM478 790h1v1h-1zM490 790h1v1h-1zM504 790h1v1h-1zM537 790h4v1h-4zM673 790h2v1h-2zM682 790h2v1h-2zM748 790h1v1h-1zM752 790h1v1h-1zM1107 790h5v1h-5zM1262 790h1v1h-1zM191 791h2v1h-2zM218 791h2v1h-2zM477 791h1v1h-1zM491 791h1v1h-1zM503 791h1v1h-1zM541 791h3v1h-3zM671 791h2v1h-2zM684 791h2v1h-2zM747 791h1v1h-1zM753 791h1v1h-1zM774 791h13v1h-13zM1103 791h4v1h-4zM1263 791h1v1h-1zM190 792h1v1h-1zM220 792h2v1h-2zM227 792h5v1h-5zM476 792h1v1h-1zM491 792h1v1h-1zM501 792h2v1h-2zM544 792h1v1h-1zM669 792h2v1h-2zM686 792h5v1h-5zM745 792h2v1h-2zM753 792h1v1h-1zM771 792h3v1h-3zM787 792h21v1h-21zM1102 792h1v1h-1zM1264 792h2v1h-2zM190 793h1v1h-1zM222 793h5v1h-5zM232 793h2v1h-2zM475 793h1v1h-1zM492 793h1v1h-1zM499 793h2v1h-2zM545 793h1v1h-1zM668 793h1v1h-1zM691 793h5v1h-5zM744 793h1v1h-1zM754 793h1v1h-1zM769 793h2v1h-2zM808 793h1v1h-1zM1101 793h1v1h-1zM1266 793h1v1h-1zM189 794h1v1h-1zM234 794h2v1h-2zM474 794h1v1h-1zM493 794h1v1h-1zM498 794h1v1h-1zM546 794h1v1h-1zM667 794h1v1h-1zM696 794h2v1h-2zM743 794h1v1h-1zM754 794h1v1h-1zM767 794h2v1h-2zM809 794h1v1h-1zM823 794h1v1h-1zM1100 794h1v1h-1zM1267 794h2v1h-2zM189 795h1v1h-1zM236 795h2v1h-2zM473 795h1v1h-1zM494 795h1v1h-1zM496 795h2v1h-2zM547 795h2v1h-2zM665 795h2v1h-2zM698 795h1v1h-1zM742 795h1v1h-1zM755 795h1v1h-1zM766 795h1v1h-1zM810 795h1v1h-1zM821 795h2v1h-2zM824 795h1v1h-1zM1071 795h2v1h-2zM1099 795h1v1h-1zM1269 795h2v1h-2zM1299 795h6v1h-6zM188 796h1v1h-1zM238 796h3v1h-3zM472 796h1v1h-1zM495 796h1v1h-1zM549 796h1v1h-1zM664 796h1v1h-1zM699 796h2v1h-2zM742 796h1v1h-1zM755 796h1v1h-1zM765 796h1v1h-1zM811 796h2v1h-2zM819 796h2v1h-2zM824 796h1v1h-1zM1003 796h5v1h-5zM1069 796h2v1h-2zM1073 796h4v1h-4zM1099 796h1v1h-1zM1271 796h1v1h-1zM1294 796h5v1h-5zM1305 796h2v1h-2zM188 797h1v1h-1zM241 797h4v1h-4zM470 797h2v1h-2zM550 797h1v1h-1zM662 797h2v1h-2zM701 797h2v1h-2zM741 797h1v1h-1zM756 797h1v1h-1zM765 797h1v1h-1zM813 797h1v1h-1zM818 797h1v1h-1zM825 797h1v1h-1zM997 797h6v1h-6zM1007 797h1v1h-1zM1067 797h2v1h-2zM1077 797h4v1h-4zM1098 797h1v1h-1zM1272 797h1v1h-1zM1292 797h2v1h-2zM1307 797h3v1h-3zM187 798h1v1h-1zM245 798h3v1h-3zM467 798h3v1h-3zM551 798h2v1h-2zM646 798h3v1h-3zM659 798h3v1h-3zM703 798h1v1h-1zM741 798h1v1h-1zM756 798h1v1h-1zM764 798h1v1h-1zM814 798h1v1h-1zM816 798h2v1h-2zM826 798h1v1h-1zM966 798h3v1h-3zM993 798h4v1h-4zM1008 798h1v1h-1zM1066 798h1v1h-1zM1081 798h2v1h-2zM1097 798h1v1h-1zM1273 798h1v1h-1zM1290 798h2v1h-2zM1310 798h2v1h-2zM186 799h1v1h-1zM248 799h1v1h-1zM465 799h2v1h-2zM553 799h4v1h-4zM563 799h5v1h-5zM643 799h3v1h-3zM649 799h4v1h-4zM657 799h2v1h-2zM704 799h1v1h-1zM740 799h1v1h-1zM757 799h1v1h-1zM763 799h1v1h-1zM815 799h1v1h-1zM827 799h1v1h-1zM963 799h3v1h-3zM969 799h2v1h-2zM991 799h2v1h-2zM1008 799h1v1h-1zM1064 799h2v1h-2zM1083 799h3v1h-3zM1096 799h1v1h-1zM1274 799h1v1h-1zM1288 799h2v1h-2zM1312 799h1v1h-1zM39 800h1v1h-1zM175 800h1v1h-1zM186 800h1v1h-1zM249 800h2v1h-2zM462 800h3v1h-3zM557 800h6v1h-6zM568 800h1v1h-1zM597 800h3v1h-3zM641 800h2v1h-2zM653 800h4v1h-4zM705 800h1v1h-1zM739 800h1v1h-1zM757 800h1v1h-1zM762 800h1v1h-1zM827 800h1v1h-1zM961 800h2v1h-2zM971 800h3v1h-3zM989 800h2v1h-2zM1009 800h1v1h-1zM1059 800h5v1h-5zM1086 800h10v1h-10zM1275 800h1v1h-1zM1286 800h2v1h-2zM1313 800h1v1h-1zM38 801h1v1h-1zM40 801h1v1h-1zM175 801h3v1h-3zM185 801h1v1h-1zM251 801h1v1h-1zM262 801h3v1h-3zM406 801h3v1h-3zM460 801h2v1h-2zM569 801h1v1h-1zM593 801h4v1h-4zM600 801h2v1h-2zM621 801h3v1h-3zM638 801h3v1h-3zM705 801h1v1h-1zM739 801h1v1h-1zM758 801h1v1h-1zM761 801h1v1h-1zM828 801h1v1h-1zM959 801h2v1h-2zM974 801h2v1h-2zM988 801h1v1h-1zM1009 801h1v1h-1zM1055 801h4v1h-4zM1276 801h1v1h-1zM1284 801h2v1h-2zM1314 801h1v1h-1zM38 802h1v1h-1zM41 802h1v1h-1zM174 802h1v1h-1zM178 802h1v1h-1zM185 802h1v1h-1zM252 802h1v1h-1zM259 802h3v1h-3zM265 802h2v1h-2zM311 802h1v1h-1zM403 802h3v1h-3zM409 802h2v1h-2zM458 802h2v1h-2zM570 802h1v1h-1zM591 802h2v1h-2zM602 802h2v1h-2zM617 802h4v1h-4zM624 802h2v1h-2zM636 802h2v1h-2zM706 802h1v1h-1zM738 802h1v1h-1zM758 802h1v1h-1zM761 802h1v1h-1zM829 802h1v1h-1zM958 802h1v1h-1zM976 802h2v1h-2zM987 802h1v1h-1zM1010 802h1v1h-1zM1053 802h2v1h-2zM1277 802h1v1h-1zM1282 802h2v1h-2zM1315 802h1v1h-1zM37 803h1v1h-1zM42 803h1v1h-1zM174 803h1v1h-1zM179 803h2v1h-2zM184 803h1v1h-1zM253 803h2v1h-2zM257 803h2v1h-2zM267 803h3v1h-3zM293 803h3v1h-3zM309 803h2v1h-2zM312 803h1v1h-1zM334 803h2v1h-2zM401 803h2v1h-2zM411 803h3v1h-3zM456 803h2v1h-2zM571 803h1v1h-1zM590 803h1v1h-1zM604 803h2v1h-2zM611 803h6v1h-6zM626 803h2v1h-2zM634 803h2v1h-2zM707 803h1v1h-1zM737 803h1v1h-1zM759 803h2v1h-2zM830 803h1v1h-1zM837 803h4v1h-4zM958 803h1v1h-1zM978 803h2v1h-2zM985 803h2v1h-2zM1010 803h1v1h-1zM1052 803h1v1h-1zM1278 803h1v1h-1zM1280 803h2v1h-2zM1316 803h1v1h-1zM1331 803h5v1h-5zM37 804h1v1h-1zM43 804h2v1h-2zM173 804h1v1h-1zM181 804h2v1h-2zM184 804h1v1h-1zM255 804h2v1h-2zM270 804h3v1h-3zM289 804h4v1h-4zM296 804h2v1h-2zM307 804h2v1h-2zM313 804h1v1h-1zM332 804h2v1h-2zM336 804h1v1h-1zM398 804h3v1h-3zM414 804h2v1h-2zM453 804h3v1h-3zM571 804h1v1h-1zM589 804h1v1h-1zM606 804h5v1h-5zM628 804h2v1h-2zM632 804h2v1h-2zM708 804h1v1h-1zM737 804h1v1h-1zM759 804h1v1h-1zM830 804h1v1h-1zM833 804h4v1h-4zM841 804h2v1h-2zM957 804h1v1h-1zM980 804h2v1h-2zM984 804h1v1h-1zM1011 804h1v1h-1zM1051 804h1v1h-1zM1279 804h1v1h-1zM1317 804h1v1h-1zM1325 804h6v1h-6zM36 805h1v1h-1zM45 805h1v1h-1zM173 805h1v1h-1zM183 805h1v1h-1zM273 805h2v1h-2zM285 805h4v1h-4zM298 805h2v1h-2zM306 805h1v1h-1zM314 805h1v1h-1zM330 805h2v1h-2zM337 805h1v1h-1zM396 805h2v1h-2zM416 805h1v1h-1zM449 805h4v1h-4zM572 805h1v1h-1zM587 805h2v1h-2zM630 805h2v1h-2zM709 805h1v1h-1zM736 805h1v1h-1zM831 805h2v1h-2zM843 805h3v1h-3zM956 805h1v1h-1zM982 805h2v1h-2zM1011 805h1v1h-1zM1023 805h2v1h-2zM1049 805h2v1h-2zM1318 805h1v1h-1zM1321 805h4v1h-4zM36 806h1v1h-1zM46 806h1v1h-1zM172 806h1v1h-1zM275 806h3v1h-3zM281 806h4v1h-4zM300 806h2v1h-2zM304 806h2v1h-2zM315 806h1v1h-1zM328 806h2v1h-2zM338 806h1v1h-1zM394 806h2v1h-2zM416 806h1v1h-1zM447 806h2v1h-2zM573 806h1v1h-1zM586 806h1v1h-1zM709 806h1v1h-1zM736 806h1v1h-1zM846 806h13v1h-13zM956 806h1v1h-1zM1011 806h1v1h-1zM1022 806h1v1h-1zM1025 806h4v1h-4zM1048 806h1v1h-1zM1319 806h2v1h-2zM35 807h1v1h-1zM47 807h2v1h-2zM172 807h1v1h-1zM278 807h3v1h-3zM302 807h2v1h-2zM315 807h1v1h-1zM326 807h2v1h-2zM339 807h1v1h-1zM392 807h2v1h-2zM417 807h1v1h-1zM445 807h2v1h-2zM574 807h1v1h-1zM585 807h1v1h-1zM710 807h1v1h-1zM731 807h5v1h-5zM859 807h5v1h-5zM955 807h1v1h-1zM1012 807h1v1h-1zM1021 807h1v1h-1zM1029 807h19v1h-19zM34 808h1v1h-1zM49 808h4v1h-4zM59 808h5v1h-5zM172 808h1v1h-1zM316 808h1v1h-1zM324 808h2v1h-2zM339 808h1v1h-1zM389 808h3v1h-3zM418 808h1v1h-1zM443 808h2v1h-2zM575 808h4v1h-4zM584 808h1v1h-1zM711 808h1v1h-1zM726 808h5v1h-5zM864 808h1v1h-1zM954 808h1v1h-1zM1012 808h1v1h-1zM1020 808h1v1h-1zM34 809h1v1h-1zM53 809h6v1h-6zM64 809h1v1h-1zM171 809h1v1h-1zM317 809h1v1h-1zM322 809h2v1h-2zM340 809h1v1h-1zM385 809h4v1h-4zM419 809h1v1h-1zM442 809h1v1h-1zM579 809h5v1h-5zM712 809h2v1h-2zM724 809h2v1h-2zM865 809h1v1h-1zM954 809h1v1h-1zM1013 809h1v1h-1zM1019 809h1v1h-1zM33 810h1v1h-1zM65 810h1v1h-1zM171 810h1v1h-1zM318 810h1v1h-1zM320 810h2v1h-2zM341 810h1v1h-1zM383 810h2v1h-2zM419 810h1v1h-1zM440 810h2v1h-2zM714 810h2v1h-2zM722 810h2v1h-2zM865 810h1v1h-1zM953 810h1v1h-1zM1013 810h1v1h-1zM1019 810h1v1h-1zM33 811h1v1h-1zM66 811h1v1h-1zM159 811h1v1h-1zM170 811h1v1h-1zM319 811h1v1h-1zM342 811h1v1h-1zM381 811h2v1h-2zM420 811h1v1h-1zM435 811h5v1h-5zM716 811h2v1h-2zM720 811h2v1h-2zM866 811h1v1h-1zM952 811h1v1h-1zM1014 811h1v1h-1zM1018 811h1v1h-1zM32 812h1v1h-1zM67 812h1v1h-1zM157 812h2v1h-2zM160 812h1v1h-1zM170 812h1v1h-1zM343 812h1v1h-1zM379 812h2v1h-2zM421 812h1v1h-1zM430 812h5v1h-5zM718 812h2v1h-2zM867 812h1v1h-1zM952 812h1v1h-1zM1014 812h1v1h-1zM1017 812h1v1h-1zM32 813h1v1h-1zM68 813h1v1h-1zM155 813h2v1h-2zM161 813h1v1h-1zM170 813h1v1h-1zM344 813h2v1h-2zM378 813h1v1h-1zM422 813h1v1h-1zM427 813h3v1h-3zM868 813h1v1h-1zM935 813h4v1h-4zM947 813h5v1h-5zM1015 813h2v1h-2zM31 814h1v1h-1zM69 814h1v1h-1zM154 814h1v1h-1zM162 814h1v1h-1zM169 814h1v1h-1zM346 814h1v1h-1zM376 814h2v1h-2zM422 814h1v1h-1zM425 814h2v1h-2zM869 814h1v1h-1zM933 814h2v1h-2zM939 814h8v1h-8zM1015 814h1v1h-1zM29 815h2v1h-2zM70 815h1v1h-1zM75 815h8v1h-8zM141 815h6v1h-6zM152 815h2v1h-2zM163 815h1v1h-1zM169 815h1v1h-1zM347 815h2v1h-2zM374 815h2v1h-2zM423 815h2v1h-2zM869 815h1v1h-1zM932 815h1v1h-1zM27 816h2v1h-2zM71 816h4v1h-4zM83 816h5v1h-5zM137 816h4v1h-4zM147 816h5v1h-5zM164 816h1v1h-1zM168 816h1v1h-1zM349 816h2v1h-2zM372 816h2v1h-2zM870 816h1v1h-1zM875 816h6v1h-6zM931 816h1v1h-1zM26 817h1v1h-1zM88 817h1v1h-1zM134 817h3v1h-3zM165 817h1v1h-1zM168 817h1v1h-1zM351 817h2v1h-2zM370 817h2v1h-2zM871 817h4v1h-4zM881 817h2v1h-2zM917 817h4v1h-4zM929 817h2v1h-2zM24 818h2v1h-2zM89 818h1v1h-1zM132 818h2v1h-2zM166 818h2v1h-2zM353 818h4v1h-4zM368 818h2v1h-2zM883 818h3v1h-3zM913 818h4v1h-4zM921 818h4v1h-4zM928 818h1v1h-1zM7 819h1v1h-1zM23 819h1v1h-1zM90 819h1v1h-1zM130 819h2v1h-2zM167 819h1v1h-1zM357 819h11v1h-11zM886 819h2v1h-2zM911 819h2v1h-2zM925 819h3v1h-3zM8 820h2v1h-2zM21 820h2v1h-2zM91 820h1v1h-1zM128 820h2v1h-2zM888 820h1v1h-1zM910 820h1v1h-1zM10 821h1v1h-1zM19 821h2v1h-2zM91 821h1v1h-1zM117 821h11v1h-11zM889 821h1v1h-1zM909 821h1v1h-1zM11 822h2v1h-2zM18 822h1v1h-1zM92 822h1v1h-1zM113 822h4v1h-4zM889 822h1v1h-1zM908 822h1v1h-1zM13 823h2v1h-2zM16 823h2v1h-2zM93 823h1v1h-1zM101 823h12v1h-12zM890 823h1v1h-1zM907 823h1v1h-1zM15 824h1v1h-1zM94 824h1v1h-1zM97 824h4v1h-4zM891 824h1v1h-1zM906 824h1v1h-1zM95 825h2v1h-2zM892 825h1v1h-1zM905 825h1v1h-1zM893 826h1v1h-1zM904 826h1v1h-1zM893 827h1v1h-1zM901 827h3v1h-3zM894 828h1v1h-1zM897 828h4v1h-4zM895 829h2v1h-2z" fill="#1e90ff"/></g><text xml:space="preserve" transform="translate(135,19) scale(0.97,1)" font-size="9.8" fill="#333333" stroke="#333333" stroke-width="0" text-anchor="start" font-weight="normal">M1</text><text xml:space="preserve" transform="translate(162.5,19) scale(0.97,1)" font-size="9.8" fill="#333333" stroke="#333333" stroke-width="0" text-anchor="start" font-weight="normal">M5</text><text xml:space="preserve" transform="translate(188.5,19) scale(0.97,1)" font-size="9.8" fill="#333333" stroke="#333333" stroke-width="0" text-anchor="start" font-weight="normal">M15</text><text xml:space="preserve" transform="translate(216,19) scale(0.97,1)" font-size="9.8" fill="#333333" stroke="#333333" stroke-width="0" text-anchor="start" font-weight="normal">M30</text><text xml:space="preserve" transform="translate(247,19) scale(0.97,1)" font-size="9.8" fill="#333333" stroke="#333333" stroke-width="0" text-anchor="start" font-weight="normal">H1</text><text xml:space="preserve" transform="translate(275,19) scale(0.97,1)" font-size="9.8" fill="#333333" stroke="#333333" stroke-width="0" text-anchor="start" font-weight="normal">H4</text><text xml:space="preserve" transform="translate(303.5,19) scale(0.97,1)" font-size="9.8" fill="#333333" stroke="#333333" stroke-width="0" text-anchor="start" font-weight="normal">D1</text><text xml:space="preserve" transform="translate(331,19) scale(0.97,1)" font-size="9.8" fill="#333333" stroke="#333333" stroke-width="0" text-anchor="start" font-weight="normal">W1</text><text xml:space="preserve" transform="translate(357.5,19) scale(0.97,1)" font-size="9.8" fill="#333333" stroke="#333333" stroke-width="0" text-anchor="start" font-weight="normal">MN</text><path d="M10,38 L17,38 L13.5,42 Z" fill="#000"/><text xml:space="preserve" transform="translate(22,43) scale(0.943,1)" font-size="10" fill="#000" stroke="#000" stroke-width="0.22" text-anchor="start" font-weight="normal">CHINA300-,H4  5446.8 5477.1 5426.6 5461.1</text><text xml:space="preserve" transform="translate(11,627) scale(0.932,1)" font-size="10" fill="#000" stroke="#000" stroke-width="0.22" text-anchor="start" font-weight="normal">MACD(12,26,9) 54.15 79.62</text><text xml:space="preserve" transform="translate(11,758) scale(0.918,1)" font-size="10" fill="#000" stroke="#000" stroke-width="0.22" text-anchor="start" font-weight="normal">RSI(14) 55.7380</text><rect x="1693" y="48" width="2" height="1" fill="#000"/><text xml:space="preserve" transform="translate(1698,52) scale(0.91,1)" font-size="10" fill="#000" stroke="#000" stroke-width="0.22" text-anchor="start" font-weight="normal">5664.0</text><rect x="1693" y="81" width="2" height="1" fill="#000"/><text xml:space="preserve" transform="translate(1698,85) scale(0.91,1)" font-size="10" fill="#000" stroke="#000" stroke-width="0.22" text-anchor="start" font-weight="normal">5596.0</text><rect x="1693" y="114" width="2" height="1" fill="#000"/><text xml:space="preserve" transform="translate(1698,118) scale(0.91,1)" font-size="10" fill="#000" stroke="#000" stroke-width="0.22" text-anchor="start" font-weight="normal">5528.0</text><rect x="1693" y="180" width="2" height="1" fill="#000"/><text xml:space="preserve" transform="translate(1698,184) scale(0.91,1)" font-size="10" fill="#000" stroke="#000" stroke-width="0.22" text-anchor="start" font-weight="normal">5390.0</text><rect x="1693" y="213" width="2" height="1" fill="#000"/><text xml:space="preserve" transform="translate(1698,217) scale(0.91,1)" font-size="10" fill="#000" stroke="#000" stroke-width="0.22" text-anchor="start" font-weight="normal">5322.0</text><rect x="1693" y="246" width="2" height="1" fill="#000"/><text xml:space="preserve" transform="translate(1698,250) scale(0.91,1)" font-size="10" fill="#000" stroke="#000" stroke-width="0.22" text-anchor="start" font-weight="normal">5254.0</text><rect x="1693" y="279" width="2" height="1" fill="#000"/><text xml:space="preserve" transform="translate(1698,283) scale(0.91,1)" font-size="10" fill="#000" stroke="#000" stroke-width="0.22" text-anchor="start" font-weight="normal">5186.0</text><rect x="1693" y="312" width="2" height="1" fill="#000"/><text xml:space="preserve" transform="translate(1698,316) scale(0.91,1)" font-size="10" fill="#000" stroke="#000" stroke-width="0.22" text-anchor="start" font-weight="normal">5116.0</text><rect x="1693" y="345" width="2" height="1" fill="#000"/><text xml:space="preserve" transform="translate(1698,349) scale(0.91,1)" font-size="10" fill="#000" stroke="#000" stroke-width="0.22" text-anchor="start" font-weight="normal">5048.0</text><rect x="1693" y="378" width="2" height="1" fill="#000"/><text xml:space="preserve" transform="translate(1698,382) scale(0.91,1)" font-size="10" fill="#000" stroke="#000" stroke-width="0.22" text-anchor="start" font-weight="normal">4980.0</text><rect x="1693" y="411" width="2" height="1" fill="#000"/><text xml:space="preserve" transform="translate(1698,415) scale(0.91,1)" font-size="10" fill="#000" stroke="#000" stroke-width="0.22" text-anchor="start" font-weight="normal">4912.0</text><rect x="1693" y="444" width="2" height="1" fill="#000"/><text xml:space="preserve" transform="translate(1698,448) scale(0.91,1)" font-size="10" fill="#000" stroke="#000" stroke-width="0.22" text-anchor="start" font-weight="normal">4844.0</text><rect x="1693" y="477" width="2" height="1" fill="#000"/><text xml:space="preserve" transform="translate(1698,481) scale(0.91,1)" font-size="10" fill="#000" stroke="#000" stroke-width="0.22" text-anchor="start" font-weight="normal">4774.0</text><rect x="1693" y="510" width="2" height="1" fill="#000"/><text xml:space="preserve" transform="translate(1698,514) scale(0.91,1)" font-size="10" fill="#000" stroke="#000" stroke-width="0.22" text-anchor="start" font-weight="normal">4706.0</text><rect x="1693" y="543" width="2" height="1" fill="#000"/><text xml:space="preserve" transform="translate(1698,547) scale(0.91,1)" font-size="10" fill="#000" stroke="#000" stroke-width="0.22" text-anchor="start" font-weight="normal">4638.0</text><rect x="1693" y="576" width="2" height="1" fill="#000"/><text xml:space="preserve" transform="translate(1698,580) scale(0.91,1)" font-size="10" fill="#000" stroke="#000" stroke-width="0.22" text-anchor="start" font-weight="normal">4570.0</text><rect x="1693" y="609" width="2" height="1" fill="#000"/><text xml:space="preserve" transform="translate(1698,613) scale(0.91,1)" font-size="10" fill="#000" stroke="#000" stroke-width="0.22" text-anchor="start" font-weight="normal">4502.0</text><rect x="1694" y="97" width="36" height="11" fill="#ff0000"/><text xml:space="preserve" transform="translate(1698,106) scale(0.91,1)" font-size="10" fill="#fff" stroke="#fff" stroke-width="0.22" text-anchor="start" font-weight="normal">5550.0</text><rect x="1694" y="141" width="36" height="11" fill="#000000"/><text xml:space="preserve" transform="translate(1698,150) scale(0.91,1)" font-size="10" fill="#fff" stroke="#fff" stroke-width="0.22" text-anchor="start" font-weight="normal">5461.1</text><rect x="1694" y="162" width="36" height="11" fill="#32cd32"/><text xml:space="preserve" transform="translate(1698,171) scale(0.91,1)" font-size="10" fill="#fff" stroke="#fff" stroke-width="0.22" text-anchor="start" font-weight="normal">5415.0</text><rect x="1694" y="225" width="36" height="11" fill="#4169e1"/><text xml:space="preserve" transform="translate(1698,234) scale(0.91,1)" font-size="10" fill="#fff" stroke="#fff" stroke-width="0.22" text-anchor="start" font-weight="normal">5285.0</text><rect x="1694" y="324" width="36" height="11" fill="#4169e1"/><text xml:space="preserve" transform="translate(1698,333) scale(0.91,1)" font-size="10" fill="#fff" stroke="#fff" stroke-width="0.22" text-anchor="start" font-weight="normal">5080.0</text><rect x="1693" y="616" width="1" height="1" fill="#000"/><text xml:space="preserve" transform="translate(1697,626) scale(0.91,1)" font-size="10" fill="#000" stroke="#000" stroke-width="0.22" text-anchor="start" font-weight="normal">134.98</text><rect x="1693" y="713" width="1" height="1" fill="#000"/><text xml:space="preserve" transform="translate(1697,718) scale(0.91,1)" font-size="10" fill="#000" stroke="#000" stroke-width="0.22" text-anchor="start" font-weight="normal">0.00</text><text xml:space="preserve" transform="translate(1697,741) scale(0.91,1)" font-size="10" fill="#000" stroke="#000" stroke-width="0.22" text-anchor="start" font-weight="normal">-41.29</text><text xml:space="preserve" transform="translate(1697,756) scale(0.91,1)" font-size="10" fill="#000" stroke="#000" stroke-width="0.22" text-anchor="start" font-weight="normal">100</text><text xml:space="preserve" transform="translate(1697,789) scale(0.91,1)" font-size="10" fill="#000" stroke="#000" stroke-width="0.22" text-anchor="start" font-weight="normal">70</text><text xml:space="preserve" transform="translate(1697,839) scale(0.91,1)" font-size="10" fill="#000" stroke="#000" stroke-width="0.22" text-anchor="start" font-weight="normal">30</text><text xml:space="preserve" transform="translate(1697,871) scale(0.91,1)" font-size="10" fill="#000" stroke="#000" stroke-width="0.22" text-anchor="start" font-weight="normal">0</text><rect x="7" y="875" width="1" height="3" fill="#000"/><text xml:space="preserve" transform="translate(7,887) scale(0.91,1)" font-size="10" fill="#000" stroke="#000" stroke-width="0.22" text-anchor="start" font-weight="normal">16 Sep 2020</text><rect x="71" y="875" width="1" height="3" fill="#000"/><text xml:space="preserve" transform="translate(71,887) scale(0.91,1)" font-size="10" fill="#000" stroke="#000" stroke-width="0.22" text-anchor="start" font-weight="normal">22 Sep 05:00</text><rect x="135" y="875" width="1" height="3" fill="#000"/><text xml:space="preserve" transform="translate(135,887) scale(0.91,1)" font-size="10" fill="#000" stroke="#000" stroke-width="0.22" text-anchor="start" font-weight="normal">28 Sep 05:00</text><rect x="199" y="875" width="1" height="3" fill="#000"/><text xml:space="preserve" transform="translate(199,887) scale(0.91,1)" font-size="10" fill="#000" stroke="#000" stroke-width="0.22" text-anchor="start" font-weight="normal">12 Oct 05:00</text><rect x="263" y="875" width="1" height="3" fill="#000"/><text xml:space="preserve" transform="translate(263,887) scale(0.91,1)" font-size="10" fill="#000" stroke="#000" stroke-width="0.22" text-anchor="start" font-weight="normal">16 Oct 05:00</text><rect x="327" y="875" width="1" height="3" fill="#000"/><text xml:space="preserve" transform="translate(327,887) scale(0.91,1)" font-size="10" fill="#000" stroke="#000" stroke-width="0.22" text-anchor="start" font-weight="normal">22 Oct 05:00</text><rect x="391" y="875" width="1" height="3" fill="#000"/><text xml:space="preserve" transform="translate(391,887) scale(0.91,1)" font-size="10" fill="#000" stroke="#000" stroke-width="0.22" text-anchor="start" font-weight="normal">28 Oct 05:00</text><rect x="455" y="875" width="1" height="3" fill="#000"/><text xml:space="preserve" transform="translate(455,887) scale(0.91,1)" font-size="10" fill="#000" stroke="#000" stroke-width="0.22" text-anchor="start" font-weight="normal">3 Nov 05:00</text><rect x="519" y="875" width="1" height="3" fill="#000"/><text xml:space="preserve" transform="translate(519,887) scale(0.91,1)" font-size="10" fill="#000" stroke="#000" stroke-width="0.22" text-anchor="start" font-weight="normal">9 Nov 05:00</text><rect x="583" y="875" width="1" height="3" fill="#000"/><text xml:space="preserve" transform="translate(583,887) scale(0.91,1)" font-size="10" fill="#000" stroke="#000" stroke-width="0.22" text-anchor="start" font-weight="normal">13 Nov 05:00</text><rect x="647" y="875" width="1" height="3" fill="#000"/><text xml:space="preserve" transform="translate(647,887) scale(0.91,1)" font-size="10" fill="#000" stroke="#000" stroke-width="0.22" text-anchor="start" font-weight="normal">19 Nov 05:00</text><rect x="711" y="875" width="1" height="3" fill="#000"/><text xml:space="preserve" transform="translate(711,887) scale(0.91,1)" font-size="10" fill="#000" stroke="#000" stroke-width="0.22" text-anchor="start" font-weight="normal">25 Nov 05:00</text><rect x="775" y="875" width="1" height="3" fill="#000"/><text xml:space="preserve" transform="translate(775,887) scale(0.91,1)" font-size="10" fill="#000" stroke="#000" stroke-width="0.22" text-anchor="start" font-weight="normal">1 Dec 05:00</text><rect x="839" y="875" width="1" height="3" fill="#000"/><text xml:space="preserve" transform="translate(839,887) scale(0.91,1)" font-size="10" fill="#000" stroke="#000" stroke-width="0.22" text-anchor="start" font-weight="normal">7 Dec 05:00</text><rect x="903" y="875" width="1" height="3" fill="#000"/><text xml:space="preserve" transform="translate(903,887) scale(0.91,1)" font-size="10" fill="#000" stroke="#000" stroke-width="0.22" text-anchor="start" font-weight="normal">11 Dec 05:00</text><rect x="967" y="875" width="1" height="3" fill="#000"/><text xml:space="preserve" transform="translate(967,887) scale(0.91,1)" font-size="10" fill="#000" stroke="#000" stroke-width="0.22" text-anchor="start" font-weight="normal">17 Dec 05:00</text><rect x="1031" y="875" width="1" height="3" fill="#000"/><text xml:space="preserve" transform="translate(1031,887) scale(0.91,1)" font-size="10" fill="#000" stroke="#000" stroke-width="0.22" text-anchor="start" font-weight="normal">23 Dec 05:00</text><rect x="1095" y="875" width="1" height="3" fill="#000"/><text xml:space="preserve" transform="translate(1095,887) scale(0.91,1)" font-size="10" fill="#000" stroke="#000" stroke-width="0.22" text-anchor="start" font-weight="normal">29 Dec 05:00</text><rect x="1159" y="875" width="1" height="3" fill="#000"/><text xml:space="preserve" transform="translate(1159,887) scale(0.91,1)" font-size="10" fill="#000" stroke="#000" stroke-width="0.22" text-anchor="start" font-weight="normal">5 Jan 05:00</text><rect x="1223" y="875" width="1" height="3" fill="#000"/><text xml:space="preserve" transform="translate(1223,887) scale(0.91,1)" font-size="10" fill="#000" stroke="#000" stroke-width="0.22" text-anchor="start" font-weight="normal">11 Jan 05:00</text><rect x="1287" y="875" width="1" height="3" fill="#000"/><text xml:space="preserve" transform="translate(1287,887) scale(0.91,1)" font-size="10" fill="#000" stroke="#000" stroke-width="0.22" text-anchor="start" font-weight="normal">15 Jan 05:00</text><path d="M1348.7,32 L1358.2,32 L1353.4,37.2 Z" fill="#708090"/><path d="M1309.1,448.3 L1294,459.1 M1304.1,453.1 L1322.7,452.8 Q1312,462 1292.5,467.1 M1302.8,457.6 L1307.1,461.1 M1314.1,462.6 Q1305,469 1295,474.2 M1309.1,466.6 L1324.2,466.4 Q1313,478 1293.8,481.7 M1306.9,472.7 L1310.1,475.7 M1343.3,448.5 L1346.3,452 M1330.5,459.6 L1330.5,453.8 L1359.6,453.8 L1359.6,459.6 M1341,458.3 Q1336,462.5 1328.7,466.6 M1348.8,458.3 Q1355,462 1361.2,466.4 M1332.7,467.9 L1357.4,467.9 M1344.8,467.9 L1344.8,479.5 M1329,479.7 L1360.9,479.7 M1364.3,454.8 L1378.6,454.8 M1371.6,448.5 L1365.5,466.1 L1378.6,466.1 M1372.8,458.6 L1372.8,482.7 M1363.8,474.9 L1378.9,472.7 M1380.4,454.8 L1397,454.8 M1378.9,461.9 L1398.2,461.9 M1387.4,448.5 L1382.1,469.4 L1396.2,469.1 L1389.2,477.7 M1381.4,473.7 L1393.2,482 M1400.2,456.8 L1411.5,456.8 M1406,449 L1406,478 Q1406,480.2 1400.2,480.2 M1399.7,468.6 L1411,464.9 M1432.6,450.5 L1415.3,452 M1415.3,452 L1415.3,466 Q1415,476 1410.8,481.7 M1416.1,462.9 L1434.2,462.9 M1426.4,463.1 L1426.4,482.7 M1452.5,448.3 L1452.5,460.1 M1452.5,453.6 L1469.7,453.6 M1441.5,472.4 L1441.5,460.3 L1464.7,460.3 L1464.7,472.4 M1441.5,469.9 L1464.7,469.9 M1441.3,474.9 L1436.8,481.5 M1447.6,474.4 L1449.9,481.2 M1455.9,473.9 L1458.7,481 M1464.7,474.4 L1468.7,481.2" fill="none" stroke="#ee1c25" stroke-width="2.5" stroke-linejoin="bevel"/><text x="1472" y="479" font-size="37.5" fill="#ee1c25" font-family="Liberation Sans, sans-serif">5415</text></svg></body></html>
